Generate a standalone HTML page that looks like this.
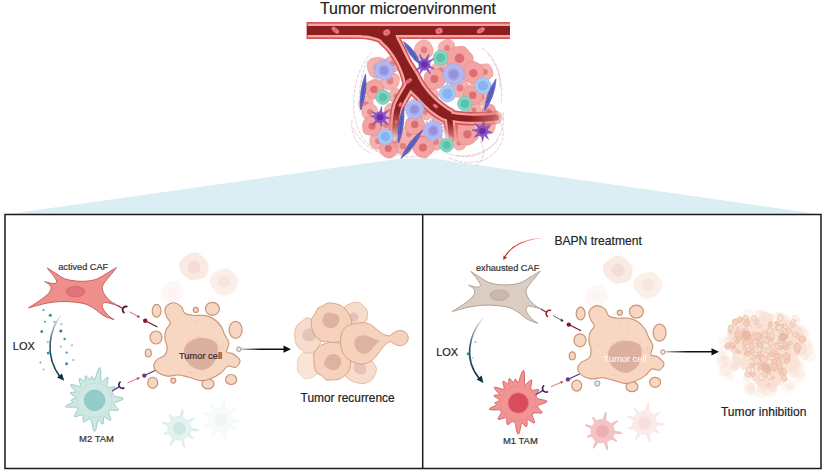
<!DOCTYPE html>
<html><head><meta charset="utf-8"><title>Tumor microenvironment</title>
<style>
html,body{margin:0;padding:0;background:#fff;}
svg{display:block;font-family:"Liberation Sans",sans-serif;}
text{stroke:#222;stroke-width:0.18px;}
text.w{stroke:#fff;}
</style></head><body>
<svg width="825" height="475" viewBox="0 0 825 475">
<rect width="825" height="475" fill="#fff"/>
<defs>
<linearGradient id="gTri" x1="0" y1="0" x2="0" y2="1"><stop offset="0" stop-color="#d9edf3"/><stop offset="1" stop-color="#e0f0f5"/></linearGradient>
<linearGradient id="gLox" gradientUnits="userSpaceOnUse" x1="62" y1="313" x2="62" y2="380"><stop offset="0" stop-color="#1c4a5e" stop-opacity="0"/><stop offset="0.45" stop-color="#1c4a5e" stop-opacity="0.9"/><stop offset="1" stop-color="#0e3242"/></linearGradient>
<linearGradient id="gLox2" gradientUnits="userSpaceOnUse" x1="482" y1="316" x2="482" y2="382"><stop offset="0" stop-color="#1c4a5e" stop-opacity="0"/><stop offset="0.45" stop-color="#1c4a5e" stop-opacity="0.9"/><stop offset="1" stop-color="#0e3242"/></linearGradient>
<linearGradient id="gBapn" gradientUnits="userSpaceOnUse" x1="544" y1="238" x2="503" y2="259"><stop offset="0" stop-color="#d42a2a" stop-opacity="0"/><stop offset="0.5" stop-color="#d42a2a" stop-opacity="0.9"/><stop offset="1" stop-color="#c81e1e"/></linearGradient>
<linearGradient id="gFadeDown" gradientUnits="userSpaceOnUse" x1="0" y1="112" x2="0" y2="140"><stop offset="0" stop-color="#fff"/><stop offset="1" stop-color="#000"/></linearGradient>
<linearGradient id="gFL" gradientUnits="userSpaceOnUse" x1="0" y1="110" x2="0" y2="138"><stop offset="0" stop-color="#fff"/><stop offset="1" stop-color="#222"/></linearGradient>
<linearGradient id="gFD" gradientUnits="userSpaceOnUse" x1="0" y1="122" x2="0" y2="143"><stop offset="0" stop-color="#fff"/><stop offset="1" stop-color="#000"/></linearGradient>
<linearGradient id="gFR" gradientUnits="userSpaceOnUse" x1="470" y1="0" x2="502" y2="0"><stop offset="0" stop-color="#fff"/><stop offset="1" stop-color="#555"/></linearGradient>
<mask id="mFadeL" maskUnits="userSpaceOnUse" x="300" y="0" width="220" height="170"><rect x="300" y="0" width="220" height="170" fill="url(#gFL)"/></mask>
<mask id="mFadeD" maskUnits="userSpaceOnUse" x="300" y="0" width="220" height="170"><rect x="300" y="0" width="220" height="170" fill="url(#gFD)"/></mask>
<mask id="mFadeR" maskUnits="userSpaceOnUse" x="300" y="0" width="220" height="170"><rect x="300" y="0" width="220" height="170" fill="url(#gFR)"/></mask>
<linearGradient id="gArr1" gradientUnits="userSpaceOnUse" x1="241" y1="0" x2="286" y2="0"><stop offset="0" stop-color="#111" stop-opacity="0.25"/><stop offset="0.45" stop-color="#111"/></linearGradient>
<linearGradient id="gArr2" gradientUnits="userSpaceOnUse" x1="665" y1="0" x2="714" y2="0"><stop offset="0" stop-color="#111" stop-opacity="0.25"/><stop offset="0.45" stop-color="#111"/></linearGradient>
</defs>
<polygon points="5,214.5 400,158.6 433,158.6 821,214.5" fill="#dbeef4"/>
<rect x="5" y="214.5" width="816" height="254" fill="#fff" stroke="#1a1a1a" stroke-width="1.5"/>
<line x1="422.7" y1="214.5" x2="422.7" y2="468.5" stroke="#1a1a1a" stroke-width="1.5"/>
<text x="408" y="13.8" font-size="15.9" text-anchor="middle" fill="#222">Tumor microenvironment</text>
<g opacity="0.5"><path d="M180.4 271.2C179.3 269 178.5 265.8 179.1 263.5C179.6 261.2 181.9 259 183.7 257.3C185.6 255.6 187.6 254.1 189.9 253.3C192.1 252.6 195.1 252.2 197.3 252.8C199.5 253.4 201.4 255.5 203.1 257.1C204.9 258.8 206.8 260.5 207.7 262.7C208.6 264.8 208.7 267.7 208.3 270.1C207.9 272.5 206.9 275.6 205.1 277.1C203.4 278.6 200.3 278.8 198 279.4C195.6 279.9 193.2 280.7 191.1 280.2C189 279.7 187 278 185.2 276.5C183.5 275 181.4 273.3 180.4 271.2Z" fill="#f6d6c4"/><circle cx="194.1" cy="266.9" r="6.4" fill="#e6bfb0"/></g>
<g opacity="0.38"><path d="M209.9 283.7C209.3 281.5 209.6 278.4 210.6 276.4C211.5 274.4 213.9 272.7 215.8 271.5C217.6 270.4 219.7 269.6 221.8 269.2C223.9 268.8 226.5 268.3 228.5 268.9C230.6 269.6 232.3 271.4 233.9 273.1C235.5 274.8 237.6 276.8 238.2 279.1C238.7 281.3 238 284.2 237.1 286.4C236.2 288.6 234.5 290.8 232.6 292.2C230.8 293.7 228.3 294.7 226 295.1C223.7 295.5 220.8 295.6 218.8 294.6C216.8 293.7 215.4 291.3 213.9 289.5C212.5 287.6 210.4 285.8 209.9 283.7Z" fill="#f6d6c4"/><circle cx="223.8" cy="281.4" r="6.2" fill="#e6bfb0"/></g>
<g opacity="0.16"><path d="M171.7 304.4C169.8 304.4 167.6 303.5 165.9 302.5C164.2 301.4 162.1 299.8 161.4 298C160.7 296.3 161.3 293.8 161.6 291.9C162 290 162.3 288 163.3 286.5C164.3 285.1 166 283.8 167.6 283C169.2 282.1 171.1 281.7 173 281.6C174.9 281.6 177.5 281.4 179 282.4C180.5 283.4 181.1 285.9 181.9 287.7C182.7 289.5 184 291.4 184 293.1C183.9 294.9 182.6 296.9 181.5 298.4C180.4 300 179 301.3 177.4 302.3C175.7 303.3 173.7 304.4 171.7 304.4Z" fill="#f6d6c4"/><circle cx="172.4" cy="292.5" r="5.2" fill="#e6bfb0"/></g>
<g opacity="0.5"><path d="M604.4 274.5C603.3 272.3 602.5 269.1 603.1 266.8C603.6 264.5 605.9 262.3 607.7 260.6C609.6 258.9 611.6 257.4 613.9 256.6C616.1 255.9 619.1 255.5 621.3 256.1C623.5 256.7 625.4 258.8 627.1 260.4C628.9 262.1 630.8 263.8 631.7 266C632.6 268.1 632.7 271 632.3 273.4C631.9 275.8 630.9 278.9 629.1 280.4C627.4 281.9 624.3 282.1 622 282.7C619.6 283.2 617.2 284 615.1 283.5C613 283 611 281.3 609.2 279.8C607.5 278.3 605.4 276.6 604.4 274.5Z" fill="#f6d6c4"/><circle cx="618.1" cy="270.2" r="6.4" fill="#e6bfb0"/></g>
<g opacity="0.38"><path d="M633.9 287C633.3 284.8 633.6 281.7 634.6 279.7C635.5 277.7 637.9 276 639.8 274.8C641.6 273.7 643.7 272.9 645.8 272.5C647.9 272.1 650.5 271.6 652.5 272.2C654.6 272.9 656.3 274.7 657.9 276.4C659.5 278.1 661.6 280.1 662.2 282.4C662.7 284.6 662 287.5 661.1 289.7C660.2 291.9 658.5 294.1 656.6 295.5C654.8 297 652.3 298 650 298.4C647.7 298.8 644.8 298.9 642.8 297.9C640.8 297 639.4 294.6 637.9 292.8C636.5 290.9 634.4 289.1 633.9 287Z" fill="#f6d6c4"/><circle cx="647.8" cy="284.7" r="6.2" fill="#e6bfb0"/></g>
<g opacity="0.16"><path d="M595.7 307.7C593.8 307.7 591.6 306.8 589.9 305.8C588.2 304.7 586.1 303.1 585.4 301.3C584.7 299.6 585.3 297.1 585.6 295.2C586 293.3 586.3 291.3 587.3 289.8C588.3 288.4 590 287.1 591.6 286.3C593.2 285.4 595.1 285 597 284.9C598.9 284.9 601.5 284.7 603 285.7C604.5 286.7 605.1 289.2 605.9 291C606.7 292.8 608 294.7 608 296.4C607.9 298.2 606.6 300.2 605.5 301.7C604.4 303.3 603 304.6 601.4 305.6C599.7 306.6 597.7 307.7 595.7 307.7Z" fill="#f6d6c4"/><circle cx="596.4" cy="295.8" r="5.2" fill="#e6bfb0"/></g>
<g opacity="0.55"><path d="M167.8 428.5L167.8 428.2L167.8 427.9L167.9 427.6L167.9 427.3L167.9 427L168 426.7L168.1 426.4L168.1 426.1L168 425.8L167.3 425.3L165.6 424.4L163.3 423.3L161.8 422.3L162.4 422L164.6 422.4L166.9 423L168.5 423.4L169.2 423.4L169.4 423.1L169.6 422.9L169.7 422.6L169.9 422.4L170.1 422.1L170.2 421.9L170.4 421.7L170.5 421.4L170.7 421.2L170.9 420.9L171.1 420.7L171.3 420.5L171.4 420.2L171.6 419.9L171.5 419.3L170.9 418.2L170.1 416.5L169.4 414.9L169.6 414.3L170.6 415.1L172 416.5L173 417.6L173.6 418L173.9 417.9L174.2 417.7L174.4 417.6L174.7 417.4L175 417.3L175.3 417.2L175.6 417L175.9 416.9L176.2 416.9L176.5 416.8L176.8 416.7L177.1 416.7L177.4 416.7L177.7 416.6L178.1 416.6L178.4 416.6L178.7 416.7L179 416.7L179.3 416.7L179.6 416.8L179.9 416.7L180.3 416L180.8 414.2L181.5 411.7L182.3 409.7L182.8 409.4L183 411.2L182.8 413.9L182.6 416.1L182.6 417.4L182.8 417.8L183 418L183.3 418.1L183.5 418.2L183.8 418.4L184.1 418.5L184.3 418.6L184.6 418.8L184.8 418.9L185.1 419.1L185.3 419.2L185.6 419.3L185.8 419.5L186.1 419.6L186.3 419.8L186.6 420L186.8 420.1L187.1 420.3L187.3 420.5L187.5 420.7L187.8 420.8L188.5 420.7L189.8 420L191.8 418.9L193.7 418L194.3 418.2L193.3 419.4L191.5 421L190.2 422.2L189.7 422.9L189.7 423.2L189.8 423.5L189.9 423.8L190.1 424L190.2 424.3L190.3 424.6L190.4 424.9L190.5 425.2L190.5 425.5L190.6 425.8L190.7 426.1L190.7 426.4L190.7 426.7L190.8 427L190.8 427.3L190.8 427.6L190.8 427.9L191 428.2L192 428.5L194.1 428.9L196.8 429.4L198.6 430L198.1 430.5L195.8 430.7L193.2 430.7L191.5 430.8L190.8 430.9L190.6 431.2L190.6 431.5L190.5 431.8L190.4 432.1L190.4 432.4L190.3 432.7L190.2 433L190.1 433.3L189.9 433.6L189.8 433.9L189.8 434.2L190.2 434.8L191.3 435.9L192.8 437.2L193.6 438.3L193.1 438.5L191.5 437.9L189.8 437L188.7 436.5L188.1 436.4L187.8 436.6L187.5 436.7L187.3 436.9L187.1 437.1L186.8 437.3L186.5 437.4L186.3 437.6L186 437.7L185.7 437.9L185.5 438L185.2 438.1L184.9 438.2L184.6 438.3L184.4 438.4L184.1 438.5L183.8 438.6L183.6 438.8L183.5 439.4L183.7 440.9L184.1 443.4L184.5 446L184.3 447.3L183.6 446.3L182.6 443.8L181.7 441.5L181.1 440.1L180.8 439.6L180.5 439.5L180.2 439.6L179.9 439.7L179.6 439.7L179.3 439.8L179 439.8L178.7 439.9L178.4 439.9L178.1 439.9L177.8 439.9L177.5 440L177.2 440L176.9 439.9L176.6 439.9L176.2 439.9L175.9 439.8L175.6 439.8L175.3 439.7L175 439.7L174.5 440.2L173.5 441.5L172.1 443.5L170.8 445.2L170.1 445.4L170.6 443.7L171.5 441.2L172.2 439.4L172.4 438.5L172.3 438.1L172.1 437.9L171.8 437.7L171.6 437.5L171.4 437.3L171.2 437L171 436.8L170.8 436.5L170.6 436.3L170.5 436L170.3 435.8L170.1 435.5L170 435.3L169.8 435L169.7 434.7L169.5 434.5L169.4 434.2L169.3 433.9L169.1 433.7L168.6 433.6L167.5 433.8L165.8 434.1L164.3 434.3L163.9 434L164.8 433.2L166.4 432.3L167.6 431.6L168.1 431.2L168.1 430.9L168 430.6L168 430.3L167.9 430L167.9 429.7L167.9 429.4L167.8 429.1L167.8 428.8Z" fill="#cfe8e4" stroke="#b0d8d2" stroke-width="0.9" stroke-linejoin="round"/><circle cx="179.3" cy="428.5" r="6.1" fill="#a3d6cf" stroke="#a3d6cf" stroke-width="0.8"/></g>
<g opacity="0.16"><path d="M209 419.5L209.1 419.2L209.1 418.9L209.2 418.6L209.2 418.3L209.3 418L209.3 417.7L209.4 417.4L209.5 417.1L209.4 416.8L208.6 416.2L206.8 415.3L204.4 414.2L202.9 413.2L203.4 412.8L205.6 413.2L208 413.8L209.6 414.2L210.3 414.2L210.5 413.9L210.7 413.7L210.8 413.4L211 413.1L211.1 412.8L211.3 412.6L211.4 412.3L211.6 412.1L211.8 411.8L212 411.6L212.2 411.3L212.4 411.1L212.6 410.9L212.8 410.6L212.7 410L212.2 408.9L211.3 407.1L210.6 405.5L210.8 405L211.9 405.9L213.4 407.4L214.5 408.5L215.1 409L215.4 408.9L215.7 408.8L216 408.7L216.3 408.6L216.6 408.5L216.9 408.4L217.1 408.3L217.4 408.2L217.7 408.1L218 408L218.3 407.9L218.6 407.8L218.9 407.8L219.2 407.7L219.6 407.6L219.9 407.6L220.2 407.5L220.5 407.5L220.8 407.5L221.1 407.4L221.4 407.2L221.8 406.4L222.4 404.5L223.1 401.8L223.9 399.6L224.5 399.3L224.7 401.1L224.6 403.8L224.4 406.1L224.4 407.3L224.6 407.7L224.9 407.9L225.2 408L225.5 408.1L225.8 408.2L226.1 408.4L226.4 408.6L226.6 408.7L226.9 408.9L227.2 409.1L227.4 409.3L227.7 409.5L227.9 409.8L228.1 410L228.3 410.2L228.5 410.5L228.7 410.7L228.9 411L229.1 411.2L229.3 411.5L229.5 411.7L230.1 411.5L231.4 410.9L233.5 409.8L235.3 409L235.9 409.1L234.8 410.4L232.9 412.1L231.5 413.3L230.9 414L230.9 414.3L231 414.6L231.2 414.9L231.3 415.1L231.4 415.4L231.6 415.7L231.7 416L231.8 416.2L231.9 416.5L232.1 416.8L232.2 417.1L232.3 417.4L232.4 417.7L232.5 418L232.6 418.3L232.6 418.6L232.7 418.9L233 419.2L234 419.5L236.2 419.9L239 420.5L240.9 421.1L240.5 421.6L238.1 421.8L235.4 421.8L233.6 421.9L232.9 422.1L232.7 422.4L232.6 422.7L232.6 423L232.5 423.3L232.3 423.6L232.2 423.9L232.1 424.2L231.9 424.5L231.8 424.7L231.6 425L231.6 425.4L232 426L233.1 427.1L234.6 428.5L235.4 429.6L234.9 429.7L233.3 429.1L231.5 428.2L230.3 427.6L229.7 427.6L229.5 427.7L229.2 427.9L229 428.1L228.8 428.4L228.5 428.6L228.3 428.8L228.1 429L227.8 429.1L227.6 429.3L227.3 429.5L227 429.7L226.8 429.8L226.5 430L226.2 430.2L226 430.3L225.7 430.4L225.4 430.7L225.3 431.3L225.6 432.9L226 435.5L226.3 438.2L226.2 439.5L225.3 438.4L224.3 435.9L223.4 433.4L222.8 432L222.4 431.4L222 431.3L221.7 431.3L221.4 431.3L221.1 431.3L220.8 431.3L220.5 431.2L220.2 431.2L219.9 431.1L219.6 431.1L219.3 431L219 430.9L218.7 430.9L218.4 430.8L218.1 430.7L217.8 430.6L217.5 430.5L217.3 430.4L217 430.3L216.7 430.3L216.1 430.8L215.2 432.1L213.8 434.3L212.4 436.1L211.7 436.2L212.1 434.5L213.1 432L213.9 430.2L214.1 429.3L213.9 429L213.6 428.9L213.3 428.7L213.1 428.6L212.8 428.4L212.5 428.2L212.3 428L212 427.9L211.7 427.7L211.5 427.4L211.3 427.2L211 427L210.8 426.8L210.6 426.5L210.4 426.3L210.2 426L210 425.7L209.9 425.4L209.6 425.2L209.1 425.1L208 425.2L206.2 425.5L204.7 425.7L204.3 425.3L205.3 424.5L207 423.6L208.2 422.9L208.8 422.4L208.9 422L208.9 421.7L208.9 421.4L208.9 421.1L208.9 420.8L208.9 420.4L208.9 420.1L209 419.8Z" fill="#cfe8e4" stroke="#a8d2cc" stroke-width="0.9" stroke-linejoin="round"/><circle cx="220.8" cy="419.5" r="6.3" fill="#a3d6cf" stroke="#a3d6cf" stroke-width="0.8"/></g>
<g opacity="0.58"><path d="M591 431.3L591 431L591 430.7L591.1 430.4L591.1 430.1L591.1 429.8L591.2 429.5L591.3 429.2L591.3 428.9L591.2 428.6L590.5 428.1L588.8 427.2L586.5 426.1L585 425.1L585.6 424.8L587.8 425.2L590.1 425.8L591.7 426.2L592.4 426.2L592.6 425.9L592.8 425.7L592.9 425.4L593.1 425.2L593.3 424.9L593.4 424.7L593.6 424.5L593.7 424.2L593.9 424L594.1 423.7L594.3 423.5L594.5 423.3L594.6 423L594.8 422.7L594.7 422.1L594.1 421L593.3 419.3L592.6 417.7L592.8 417.1L593.8 417.9L595.2 419.3L596.2 420.4L596.8 420.8L597.1 420.7L597.4 420.5L597.6 420.4L597.9 420.2L598.2 420.1L598.5 420L598.8 419.8L599.1 419.7L599.4 419.7L599.7 419.6L600 419.5L600.3 419.5L600.6 419.5L600.9 419.4L601.3 419.4L601.6 419.4L601.9 419.5L602.2 419.5L602.5 419.5L602.8 419.6L603.1 419.5L603.5 418.8L604 417L604.7 414.5L605.5 412.5L606 412.2L606.2 414L606 416.7L605.8 418.9L605.8 420.2L606 420.6L606.2 420.8L606.5 420.9L606.7 421L607 421.2L607.3 421.3L607.5 421.4L607.8 421.6L608 421.7L608.3 421.9L608.5 422L608.8 422.1L609 422.3L609.3 422.4L609.5 422.6L609.8 422.8L610 422.9L610.3 423.1L610.5 423.3L610.7 423.5L611 423.6L611.7 423.5L613 422.8L615 421.7L616.9 420.8L617.5 421L616.5 422.2L614.7 423.8L613.4 425L612.9 425.7L612.9 426L613 426.3L613.1 426.6L613.3 426.8L613.4 427.1L613.5 427.4L613.6 427.7L613.7 428L613.7 428.3L613.8 428.6L613.9 428.9L613.9 429.2L613.9 429.5L614 429.8L614 430.1L614 430.4L614 430.7L614.2 431L615.2 431.3L617.3 431.7L620 432.2L621.8 432.8L621.3 433.3L619 433.5L616.4 433.5L614.7 433.6L614 433.7L613.8 434L613.8 434.3L613.7 434.6L613.6 434.9L613.6 435.2L613.5 435.5L613.4 435.8L613.3 436.1L613.1 436.4L613 436.7L613 437L613.4 437.6L614.5 438.7L616 440L616.8 441.1L616.3 441.3L614.7 440.7L613 439.8L611.9 439.3L611.3 439.2L611 439.4L610.7 439.5L610.5 439.7L610.3 439.9L610 440.1L609.7 440.2L609.5 440.4L609.2 440.5L608.9 440.7L608.7 440.8L608.4 440.9L608.1 441L607.8 441.1L607.6 441.2L607.3 441.3L607 441.4L606.8 441.6L606.7 442.2L606.9 443.7L607.3 446.2L607.7 448.8L607.5 450.1L606.8 449.1L605.8 446.6L604.9 444.3L604.3 442.9L604 442.4L603.7 442.3L603.4 442.4L603.1 442.5L602.8 442.5L602.5 442.6L602.2 442.6L601.9 442.7L601.6 442.7L601.3 442.7L601 442.7L600.7 442.8L600.4 442.8L600.1 442.7L599.8 442.7L599.4 442.7L599.1 442.6L598.8 442.6L598.5 442.5L598.2 442.5L597.7 443L596.7 444.3L595.3 446.3L594 448L593.3 448.2L593.8 446.5L594.7 444L595.4 442.2L595.6 441.3L595.5 440.9L595.3 440.7L595 440.5L594.8 440.3L594.6 440.1L594.4 439.8L594.2 439.6L594 439.3L593.8 439.1L593.7 438.8L593.5 438.6L593.3 438.3L593.2 438.1L593 437.8L592.9 437.5L592.7 437.3L592.6 437L592.5 436.7L592.3 436.5L591.8 436.4L590.7 436.6L589 436.9L587.5 437.1L587.1 436.8L588 436L589.6 435.1L590.8 434.4L591.3 434L591.3 433.7L591.2 433.4L591.2 433.1L591.1 432.8L591.1 432.5L591.1 432.2L591 431.9L591 431.6Z" fill="#f29a9a" stroke="#e08888" stroke-width="0.9" stroke-linejoin="round"/><circle cx="602.5" cy="431.3" r="6.1" fill="#e37782" stroke="#e37782" stroke-width="0.8"/></g>
<g opacity="0.2"><path d="M633 422.8L633.1 422.5L633.1 422.2L633.2 421.9L633.2 421.6L633.3 421.3L633.3 421L633.4 420.7L633.5 420.4L633.4 420.1L632.6 419.5L630.8 418.6L628.4 417.5L626.9 416.5L627.4 416.1L629.6 416.5L632 417.1L633.6 417.5L634.3 417.5L634.5 417.2L634.7 417L634.8 416.7L635 416.4L635.1 416.1L635.3 415.9L635.4 415.6L635.6 415.4L635.8 415.1L636 414.9L636.2 414.6L636.4 414.4L636.6 414.2L636.8 413.9L636.7 413.3L636.2 412.2L635.3 410.4L634.6 408.8L634.8 408.3L635.9 409.2L637.4 410.7L638.5 411.8L639.1 412.3L639.4 412.2L639.7 412.1L640 412L640.3 411.9L640.6 411.8L640.9 411.7L641.1 411.6L641.4 411.5L641.7 411.4L642 411.3L642.3 411.2L642.6 411.1L642.9 411.1L643.2 411L643.6 410.9L643.9 410.9L644.2 410.8L644.5 410.8L644.8 410.8L645.1 410.7L645.4 410.5L645.8 409.7L646.4 407.8L647.1 405.1L647.9 402.9L648.5 402.6L648.7 404.4L648.6 407.1L648.4 409.4L648.4 410.6L648.6 411L648.9 411.2L649.2 411.3L649.5 411.4L649.8 411.5L650.1 411.7L650.4 411.9L650.6 412L650.9 412.2L651.2 412.4L651.4 412.6L651.7 412.8L651.9 413.1L652.1 413.3L652.3 413.5L652.5 413.8L652.7 414L652.9 414.3L653.1 414.5L653.3 414.8L653.5 415L654.1 414.8L655.4 414.2L657.5 413.1L659.3 412.3L659.9 412.4L658.8 413.7L656.9 415.4L655.5 416.6L654.9 417.3L654.9 417.6L655 417.9L655.2 418.2L655.3 418.4L655.4 418.7L655.6 419L655.7 419.3L655.8 419.5L655.9 419.8L656.1 420.1L656.2 420.4L656.3 420.7L656.4 421L656.5 421.3L656.6 421.6L656.6 421.9L656.7 422.2L657 422.5L658 422.8L660.2 423.2L663 423.8L664.9 424.4L664.5 424.9L662.1 425.1L659.4 425.1L657.6 425.2L656.9 425.4L656.7 425.7L656.6 426L656.6 426.3L656.5 426.6L656.3 426.9L656.2 427.2L656.1 427.5L655.9 427.8L655.8 428L655.6 428.3L655.6 428.7L656 429.3L657.1 430.4L658.6 431.8L659.4 432.9L658.9 433L657.3 432.4L655.5 431.5L654.3 430.9L653.7 430.9L653.5 431L653.2 431.2L653 431.4L652.8 431.7L652.5 431.9L652.3 432.1L652.1 432.3L651.8 432.4L651.6 432.6L651.3 432.8L651 433L650.8 433.1L650.5 433.3L650.2 433.5L650 433.6L649.7 433.7L649.4 434L649.3 434.6L649.6 436.2L650 438.8L650.3 441.5L650.2 442.8L649.3 441.7L648.3 439.2L647.4 436.7L646.8 435.3L646.4 434.7L646 434.6L645.7 434.6L645.4 434.6L645.1 434.6L644.8 434.6L644.5 434.5L644.2 434.5L643.9 434.4L643.6 434.4L643.3 434.3L643 434.2L642.7 434.2L642.4 434.1L642.1 434L641.8 433.9L641.5 433.8L641.3 433.7L641 433.6L640.7 433.6L640.1 434.1L639.2 435.4L637.8 437.6L636.4 439.4L635.7 439.5L636.1 437.8L637.1 435.3L637.9 433.5L638.1 432.6L637.9 432.3L637.6 432.2L637.3 432L637.1 431.9L636.8 431.7L636.5 431.5L636.3 431.3L636 431.2L635.7 431L635.5 430.7L635.3 430.5L635 430.3L634.8 430.1L634.6 429.8L634.4 429.6L634.2 429.3L634 429L633.9 428.7L633.6 428.5L633.1 428.4L632 428.5L630.2 428.8L628.7 429L628.3 428.6L629.3 427.8L631 426.9L632.2 426.2L632.8 425.7L632.9 425.3L632.9 425L632.9 424.7L632.9 424.4L632.9 424.1L632.9 423.7L632.9 423.4L633 423.1Z" fill="#f29a9a" stroke="#dd7a7a" stroke-width="0.9" stroke-linejoin="round"/><circle cx="644.8" cy="422.8" r="6.3" fill="#e06070" stroke="#e06070" stroke-width="0.8"/></g>
<text x="507.6" y="270.6" font-size="9.2" text-anchor="middle" fill="#333">exhausted CAF</text>
<path d="M47.1 267.9C48.7 268.9 53.7 272.1 56.6 273.9C59.5 275.7 61.4 277.5 64.5 278.7C67.7 279.9 71.6 280.6 75.5 281C79.4 281.4 84.4 281.4 88.1 281C91.8 280.6 94.4 280 97.6 278.7C100.8 277.4 103.9 275 107.1 273.2C110.2 271.4 114.9 268.5 116.5 267.6C115.5 268.9 112.3 272.9 110.2 275.5C108.1 278.1 105.2 281.2 103.9 283.4C102.6 285.6 102 286.8 102.3 288.9C102.6 291 104 293.9 105.5 296C107 298.1 108.9 300 111 301.6C113.1 303.2 117.1 305.1 118.3 305.8C117 305.4 112.5 303.9 110.2 303.4C107.9 302.9 106 302.2 104.7 302.6C103.4 303 102.4 304.2 102.3 305.5C102.2 306.8 102.8 308.5 103.9 310.2C105 311.9 107 314.2 108.7 315.8C110.4 317.4 113.3 319.1 114.2 319.7C112.5 319.1 107.2 317.6 103.9 315.8C100.6 314 97.6 310.7 94.4 308.7C91.2 306.7 88.7 305 85 303.9C81.3 302.8 76.5 302.3 72.3 301.9C68.1 301.5 63.9 301.4 59.7 301.6C55.5 301.8 51.1 302.4 47.1 303.1C43.1 303.8 39.1 305 36 305.8C32.9 306.6 29.8 307.5 28.5 307.9C29.8 307.1 33.4 304.8 36 303.1C38.6 301.4 41.6 299.4 43.9 297.6C46.1 295.8 48.3 293.8 49.5 292.1C50.7 290.4 51.1 288.7 51 287.4C50.9 286.1 49.8 285.2 48.7 284.2C47.7 283.2 45.4 281.9 44.7 281.5C45.6 281.8 48.6 282.8 50.3 283.1C52 283.4 54 283.8 55 283.4C56 283 56.9 282.3 56.6 281C56.3 279.7 54.7 277.3 53.4 275.5C52.1 273.7 49.8 271.3 48.7 270C47.7 268.7 47.4 268.2 47.1 267.9Z" fill="#ef8f8c" stroke="#c4605f" stroke-width="1" stroke-linejoin="round"/><ellipse cx="75.5" cy="291.6" rx="9.3" ry="5.3" fill="#e1747a" stroke="#d45f68" stroke-width="0.7"/>
<path d="M470.9 271.5C472.5 272.5 477.5 275.7 480.4 277.5C483.3 279.3 485.2 281.1 488.3 282.3C491.4 283.5 495.4 284.2 499.3 284.6C503.2 285 508.2 285 511.9 284.6C515.6 284.2 518.2 283.6 521.4 282.3C524.6 281 527.8 278.6 530.9 276.8C534 275 538.7 272.1 540.3 271.2C539.2 272.5 536.1 276.5 534 279.1C531.9 281.7 529 284.8 527.7 287C526.4 289.2 525.8 290.4 526.1 292.5C526.4 294.6 527.8 297.5 529.3 299.6C530.8 301.7 532.7 303.6 534.8 305.2C536.9 306.8 540.9 308.7 542.1 309.4C540.8 309 536.3 307.5 534 307C531.7 306.5 529.8 305.9 528.5 306.2C527.2 306.6 526.2 307.8 526.1 309.1C526 310.4 526.6 312.1 527.7 313.8C528.8 315.5 530.8 317.8 532.5 319.4C534.2 321 537.1 322.7 538 323.3C536.3 322.7 531 321.2 527.7 319.4C524.4 317.6 521.4 314.3 518.2 312.3C515.1 310.3 512.5 308.6 508.8 307.5C505.1 306.4 500.3 305.9 496.1 305.5C491.9 305.1 487.7 305 483.5 305.2C479.3 305.4 474.9 306 470.9 306.7C467 307.4 462.9 308.6 459.8 309.4C456.7 310.2 453.6 311.1 452.3 311.5C453.6 310.7 457.2 308.4 459.8 306.7C462.4 305 465.4 303 467.7 301.2C469.9 299.4 472.1 297.4 473.3 295.7C474.5 294 474.9 292.3 474.8 291C474.7 289.7 473.6 288.8 472.5 287.8C471.4 286.8 469.2 285.6 468.5 285.1C469.4 285.4 472.4 286.4 474.1 286.7C475.8 287 477.8 287.4 478.8 287C479.9 286.6 480.7 285.9 480.4 284.6C480.1 283.3 478.5 280.9 477.2 279.1C475.9 277.3 473.6 274.9 472.5 273.6C471.4 272.3 471.2 271.9 470.9 271.5Z" fill="#dccdc3" stroke="#b3a297" stroke-width="1" stroke-linejoin="round"/><ellipse cx="499.3" cy="295.2" rx="9.3" ry="5.3" fill="#cbb7ab" stroke="#b8a294" stroke-width="0.7"/>
<circle cx="43.5" cy="309.9" r="1.0" fill="#3a9ab0"/>
<circle cx="50.3" cy="315.2" r="1.5" fill="#2a8fa8"/>
<circle cx="45" cy="321.7" r="1.0" fill="#3a9ab0"/>
<circle cx="54.5" cy="322" r="1.2" fill="#a9bcc8"/>
<circle cx="61.4" cy="324.2" r="1.1" fill="#b5c0cc"/>
<circle cx="41.8" cy="331.6" r="1.4" fill="#2a8098"/>
<circle cx="60.8" cy="331" r="1.5" fill="#1f7a94"/>
<circle cx="64.6" cy="339" r="1.2" fill="#3a90a8"/>
<circle cx="47.7" cy="342" r="1.2" fill="#b8c6d0"/>
<circle cx="72" cy="345.3" r="1.1" fill="#a8b8c4"/>
<circle cx="60.8" cy="346.7" r="1.1" fill="#b0bcc8"/>
<circle cx="48.2" cy="353" r="1.5" fill="#2f9ab4"/>
<circle cx="66.7" cy="352.6" r="1.1" fill="#3a90a8"/>
<circle cx="73.4" cy="360" r="1.1" fill="#9fb0bc"/>
<circle cx="40.4" cy="362.5" r="1.0" fill="#5fb0c4"/>
<circle cx="66.5" cy="363.8" r="1.5" fill="#2a8fa8"/>
<circle cx="43.5" cy="369.5" r="1.0" fill="#a8b8c4"/>
<circle cx="475.5" cy="342" r="1.1" fill="#7cc4e0"/>
<circle cx="468" cy="353.9" r="1.3" fill="#2a8fc0"/>
<circle cx="473" cy="358" r="1.0" fill="#bcd0dc"/>
<path d="M62 313.5C49 330 44 355 60 377" fill="none" stroke="url(#gLox)" stroke-width="1.6"/>
<polygon points="64.2,380.8 57,377.4 62,373.4" fill="#0e3242"/>
<path d="M483.5 317.5C469 334 463 359 479.3 378.5" fill="none" stroke="url(#gLox2)" stroke-width="1.6"/>
<polygon points="483.4,383 476.6,379.6 481.7,375.6" fill="#0e3242"/>
<g><path d="M70.9 400.3L71.5 399.7L72.7 399.2L74 398.7L75.2 398.3L75.9 397.8L76 397.3L75.3 396.7L74.1 395.9L72.5 395L71 394L70.2 393.1L70.5 392.5L71.9 392.3L73.6 392.2L75.1 392.2L75.8 391.9L75.5 391.2L74.5 390.1L73.2 388.7L71.9 387.2L70.9 385.8L70.6 384.7L71.5 384.4L73.2 384.8L75 385.2L76.7 385.8L78.1 386.2L79.3 386.5L80 386.4L80.4 386.1L80.5 385.5L80.4 384.5L80 383.2L79.6 381.7L79.2 380.2L79.1 378.9L79.5 378.4L80.6 378.8L82 379.7L83.3 380.7L84.3 381.4L84.9 381.3L85.1 380.4L85.1 378.9L85.1 377.3L85.3 376.1L85.9 375.7L86.8 376.4L87.9 377.7L88.9 379L89.7 379.8L90.2 379.6L90.6 378.6L91 377.3L91.5 376.4L92.1 376.6L92.8 377.6L93.5 378.9L94.1 379.9L94.6 380.1L95.2 378.8L95.8 376.5L96.7 373.8L97.7 371L98.8 368.5L99.8 367.5L100.4 368.7L100.7 371.4L100.8 374.3L100.8 377.1L100.8 379.5L100.8 381.3L101.1 382.1L101.6 382L102.4 381.4L103.4 380.4L104.6 379.4L105.8 378.3L107 377.4L107.9 377.2L108.2 378.1L108 379.6L107.7 381.2L107.4 382.7L107.1 384.1L106.9 385.1L107 385.8L107.3 386.2L107.7 386.5L108 386.9L108.4 387.2L108.8 387.5L109.5 387.6L110.5 387.4L111.7 387.2L113 386.9L114.3 386.8L115 387L115 387.8L114.4 388.9L113.6 390L113 390.9L112.5 391.8L112.3 392.4L112.4 392.9L112.6 393.4L112.8 393.8L113.1 394.3L113.3 394.8L113.5 395.2L113.8 395.7L114.4 396.1L115.6 396.4L117.2 396.7L119 397.1L120.9 397.5L122.6 398.1L123.4 398.8L122.7 399.6L121.1 400.3L119.4 400.9L117.7 401.5L116.2 402L115 402.4L114.5 402.9L114.3 403.4L114.1 403.9L114.1 404.5L114.5 405.1L115.1 405.8L116 406.6L117 407.6L117.9 408.5L118.5 409.5L118.3 410.1L117.3 410.4L115.8 410.4L114.3 410.3L112.9 410.2L111.7 410.2L110.8 410.2L110.3 410.5L109.9 410.8L109.6 411.2L109.3 411.5L108.9 411.9L108.7 412.3L108.6 412.9L108.9 413.9L109.4 415.1L109.9 416.5L110.5 417.9L110.9 419.4L110.8 420.3L109.9 420.2L108.6 419.6L107.3 418.8L106.1 418L105 417.3L104.2 416.9L103.7 417L103.4 417.6L103.3 418.6L103.4 420L103.4 421.5L103.3 422.9L103 423.9L102.3 424L101.4 423.3L100.5 422.3L99.6 421.3L98.9 420.4L98.3 420L97.8 420.5L97.4 421.9L97.1 423.9L96.6 426.1L96.1 428.5L95.4 430.6L94.6 431.6L93.8 430.6L93.1 428.5L92.6 426.1L92.1 423.8L91.8 421.8L91.4 420.4L91 419.6L90.5 419.4L90.1 419.2L89.6 419.1L89.1 419L88.5 419L87.8 419.4L87 420L86.2 420.6L85.2 421.3L84.3 421.9L83.6 421.9L83.2 421.3L83.1 420.2L83.1 419.1L83.1 418L83.1 417L83 416.2L82.8 415.7L82.4 415.4L82 415.1L81.3 415L80.4 415.2L79.3 415.6L78 416.1L76.6 416.5L75.3 416.7L74.5 416.6L74.5 415.7L75 414.5L75.7 413.3L76.4 412.1L77 411.1L77.4 410.2L77.5 409.6L77.4 409.1L77.2 408.6L77 408.1L76.8 407.7L76.4 407.3L75.3 407.1L73.6 407.1L71.3 407.2L68.9 407.2L66.6 407L65.5 406.5L66.4 405.5L68.5 404.4L70.8 403.4L72.5 402.6L73.1 402L72.5 401.5L71.4 400.9Z" fill="#cfe8e4" stroke="#8fc6be" stroke-width="0.9" stroke-linejoin="round"/><circle cx="94.6" cy="400.3" r="17.4" fill="none" stroke="#b6dbd6" stroke-width="0.7"/><circle cx="94.6" cy="400.3" r="10.2" fill="#93cdc7" stroke="#83c2bb" stroke-width="0.8"/></g>
<g><path d="M494.6 403L495.2 402.4L496.4 401.9L497.7 401.4L498.9 401L499.6 400.5L499.7 400L499 399.4L497.8 398.6L496.2 397.7L494.7 396.7L493.9 395.8L494.2 395.2L495.6 395L497.3 394.9L498.8 394.9L499.5 394.6L499.2 393.9L498.2 392.8L496.9 391.4L495.6 389.9L494.6 388.5L494.3 387.4L495.2 387.1L496.9 387.5L498.7 387.9L500.4 388.5L501.8 388.9L503 389.2L503.7 389.1L504.1 388.8L504.2 388.2L504.1 387.2L503.7 385.9L503.3 384.4L502.9 382.9L502.8 381.6L503.2 381.1L504.3 381.5L505.7 382.4L507 383.4L508 384.1L508.6 384L508.8 383.1L508.8 381.6L508.8 380L509 378.8L509.6 378.4L510.5 379.1L511.6 380.4L512.6 381.7L513.4 382.5L513.9 382.3L514.3 381.3L514.7 380L515.2 379.1L515.8 379.3L516.5 380.3L517.2 381.6L517.8 382.6L518.3 382.8L518.9 381.5L519.5 379.2L520.4 376.5L521.4 373.7L522.5 371.2L523.5 370.2L524.1 371.4L524.4 374.1L524.5 377L524.5 379.8L524.5 382.2L524.5 384L524.8 384.8L525.3 384.7L526.1 384.1L527.1 383.1L528.3 382.1L529.5 381L530.7 380.1L531.6 379.9L531.9 380.8L531.7 382.3L531.4 383.9L531.1 385.4L530.8 386.8L530.6 387.8L530.7 388.5L531 388.9L531.4 389.2L531.7 389.6L532.1 389.9L532.5 390.2L533.2 390.3L534.2 390.1L535.4 389.9L536.7 389.6L538 389.5L538.7 389.7L538.7 390.5L538.1 391.6L537.3 392.7L536.7 393.6L536.2 394.5L536 395.1L536.1 395.6L536.3 396.1L536.5 396.5L536.8 397L537 397.5L537.2 397.9L537.5 398.4L538.1 398.8L539.3 399.1L540.9 399.4L542.7 399.8L544.6 400.2L546.3 400.8L547.1 401.5L546.4 402.3L544.8 403L543.1 403.6L541.4 404.2L539.9 404.7L538.7 405.1L538.2 405.6L538 406.1L537.8 406.6L537.8 407.2L538.2 407.8L538.8 408.5L539.7 409.3L540.7 410.3L541.6 411.2L542.2 412.2L542 412.8L541 413.1L539.5 413.1L538 413L536.6 412.9L535.4 412.9L534.5 412.9L534 413.2L533.6 413.5L533.3 413.9L533 414.2L532.6 414.6L532.4 415L532.3 415.6L532.6 416.6L533.1 417.8L533.6 419.2L534.2 420.6L534.6 422.1L534.5 423L533.6 422.9L532.3 422.3L531 421.5L529.8 420.7L528.7 420L527.9 419.6L527.4 419.7L527.1 420.3L527 421.3L527.1 422.7L527.1 424.2L527 425.6L526.7 426.6L526 426.7L525.1 426L524.2 425L523.3 424L522.6 423.1L522 422.7L521.5 423.2L521.1 424.6L520.8 426.6L520.3 428.8L519.8 431.2L519.1 433.3L518.3 434.3L517.5 433.3L516.8 431.2L516.3 428.8L515.8 426.5L515.5 424.5L515.1 423.1L514.7 422.3L514.2 422.1L513.8 421.9L513.3 421.8L512.8 421.7L512.2 421.7L511.5 422.1L510.7 422.7L509.9 423.3L508.9 424L508 424.6L507.3 424.6L506.9 424L506.8 422.9L506.8 421.8L506.8 420.7L506.8 419.7L506.7 418.9L506.5 418.4L506.1 418.1L505.7 417.8L505 417.7L504.1 417.9L503 418.3L501.7 418.8L500.3 419.2L499 419.4L498.2 419.3L498.2 418.4L498.7 417.2L499.4 416L500.1 414.8L500.7 413.8L501.1 412.9L501.2 412.3L501.1 411.8L500.9 411.3L500.7 410.8L500.5 410.4L500.1 410L499 409.8L497.3 409.8L495 409.9L492.6 409.9L490.3 409.7L489.2 409.2L490.1 408.2L492.2 407.1L494.5 406.1L496.2 405.3L496.8 404.7L496.2 404.2L495.1 403.6Z" fill="#f19494" stroke="#cf5f64" stroke-width="0.9" stroke-linejoin="round"/><circle cx="518.3" cy="403" r="17.4" fill="none" stroke="#ea8686" stroke-width="0.7"/><circle cx="518.3" cy="403" r="10.2" fill="#d94c5a" stroke="#e8707a" stroke-width="0.8"/></g>
<line x1="117.5" y1="305.5" x2="122.5" y2="308.3" stroke="#7a2a3a" stroke-width="1.2"/><path d="M127.5 306.8A3.2 3.2 0 1 0 124.5 312.9" fill="none" stroke="#4a0f22" stroke-width="1.7"/><line x1="129.5" y1="311.8" x2="137.4" y2="316.1" stroke="#c02838" stroke-width="0.8" opacity="0.85"/><polygon points="140.2,317.6 136.7,317.4 138.1,314.8" fill="#c02838"/><line x1="145.2" y1="320.8" x2="157.5" y2="327" stroke="#6a1822" stroke-width="1.1"/><circle cx="145.2" cy="320.8" r="2.2" fill="#8e1424"/><line x1="112" y1="391" x2="119.5" y2="386.6" stroke="#5a3c8a" stroke-width="1.3"/><path d="M120.6 381.6A3.2 3.2 0 1 0 124.4 387.8" fill="none" stroke="#3b2068" stroke-width="1.7"/><line x1="127.5" y1="382.8" x2="137" y2="378.8" stroke="#cc3040" stroke-width="0.8" opacity="0.85"/><polygon points="140,377.6 137.6,380.2 136.5,377.4" fill="#cc3040"/><line x1="144.3" y1="375.6" x2="156.3" y2="369.9" stroke="#553070" stroke-width="1.1"/><circle cx="144.3" cy="375.6" r="2.2" fill="#6f3a8c"/>
<line x1="541.1" y1="309.3" x2="546.1" y2="312.1" stroke="#7a2a3a" stroke-width="1.2"/><path d="M551.1 310.6A3.2 3.2 0 1 0 548.1 316.7" fill="none" stroke="#a81c2c" stroke-width="1.7"/><line x1="553.1" y1="315.6" x2="561" y2="319.9" stroke="#2a2a2a" stroke-width="0.8" opacity="0.85"/><polygon points="563.8,321.4 560.3,321.2 561.7,318.6" fill="#2a2a2a"/><line x1="568.8" y1="324.6" x2="581.1" y2="330.8" stroke="#6a1822" stroke-width="1.1"/><circle cx="568.8" cy="324.6" r="2.2" fill="#8e1424"/><line x1="535.6" y1="394.8" x2="543.1" y2="390.4" stroke="#5a3c8a" stroke-width="1.3"/><path d="M544.2 385.4A3.2 3.2 0 1 0 548 391.6" fill="none" stroke="#3b2068" stroke-width="1.7"/><line x1="551.1" y1="386.6" x2="560.6" y2="382.6" stroke="#cc3040" stroke-width="0.8" opacity="0.85"/><polygon points="563.6,381.4 561.2,384 560.1,381.2" fill="#cc3040"/><line x1="567.9" y1="379.4" x2="579.9" y2="373.7" stroke="#553070" stroke-width="1.1"/><circle cx="567.9" cy="379.4" r="2.2" fill="#6f3a8c"/>
<g><ellipse cx="156.6" cy="310.8" rx="4.4" ry="6.4" fill="#f7d6c2" stroke="#c99474" stroke-width="1.2"/><ellipse cx="212.4" cy="308.8" rx="7" ry="6.5" fill="#f7d6c2" stroke="#c99474" stroke-width="1.2"/><ellipse cx="195.8" cy="309.9" rx="2.5" ry="2.5" fill="#f7d6c2" stroke="#c99474" stroke-width="1.2"/><ellipse cx="235.6" cy="329.8" rx="6.5" ry="8.5" fill="#f7d6c2" stroke="#c99474" stroke-width="1.2"/><ellipse cx="156" cy="337.5" rx="6" ry="6.5" fill="#f7d6c2" stroke="#c99474" stroke-width="1.2"/><ellipse cx="148.3" cy="353" rx="3" ry="4" fill="#f7d6c2" stroke="#c99474" stroke-width="1.2"/><ellipse cx="152.7" cy="382.8" rx="5" ry="5.5" fill="#f7d6c2" stroke="#c99474" stroke-width="1.2"/><ellipse cx="173.3" cy="380.6" rx="2.5" ry="2.5" fill="#f7d6c2" stroke="#c99474" stroke-width="1.2"/><ellipse cx="208" cy="383.9" rx="6" ry="5" fill="#f7d6c2" stroke="#c99474" stroke-width="1.2"/><ellipse cx="231.1" cy="379.5" rx="5.5" ry="5" fill="#f7d6c2" stroke="#c99474" stroke-width="1.2"/><path d="M164.9 311C164.9 309 165.6 306.9 167.1 305.5C168.6 304.1 171.3 302.6 173.7 302.8C176.1 303 179.6 304.9 181.4 306.6C183.2 308.3 182.8 311.7 184.8 313.2C186.8 314.7 190.3 315 193.6 315.4C196.9 315.8 201.3 314.8 204.6 315.4C207.9 315.9 210.7 316.9 213.5 318.7C216.3 320.5 219.4 323.8 221.2 326.4C223 329 223.2 331.4 224.5 334.2C225.8 337 228.5 340.1 228.9 343C229.3 345.9 225.9 350.1 226.7 351.9C227.4 353.7 231.2 352.5 233.4 354C235.6 355.5 239.6 358.5 240 360.7C240.4 362.9 237.6 366.4 235.6 367.3C233.6 368.2 230.2 365.3 227.8 366.2C225.4 367.1 223.9 370.8 221.2 372.8C218.4 374.8 214.8 377.1 211.3 378.4C207.8 379.7 203.9 380.8 200.2 380.6C196.5 380.4 192.9 378.2 189.2 377.3C185.5 376.4 181.8 375.2 178.1 375C174.4 374.8 170.4 376.5 167.1 376.1C163.8 375.7 160.5 374.5 158.3 372.8C156.1 371.1 154 368.4 153.8 366.2C153.6 364 155.2 361.4 157.1 359.6C158.9 357.8 163.2 357.2 164.9 355.2C166.6 353.2 167.1 350.2 167.1 347.4C167.1 344.6 165.1 341.5 164.9 338.6C164.7 335.7 165.1 332.4 166 329.8C166.9 327.2 170.2 325.1 170.4 323.1C170.6 321.1 168 319.6 167.1 317.6C166.2 315.6 164.9 313 164.9 311Z" fill="#f7d6c2" stroke="#c99474" stroke-width="1.1"/><circle cx="178.5" cy="331.8" r="0.8" fill="#f0c6b0"/><circle cx="204" cy="322.2" r="0.8" fill="#f0c6b0"/><circle cx="194.1" cy="321.6" r="0.8" fill="#f0c6b0"/><circle cx="213.9" cy="350" r="0.8" fill="#f0c6b0"/><circle cx="216.9" cy="340" r="0.8" fill="#f0c6b0"/><circle cx="204.5" cy="341.5" r="0.8" fill="#f0c6b0"/><circle cx="182.8" cy="349.4" r="0.8" fill="#f0c6b0"/><circle cx="176.1" cy="342" r="0.8" fill="#f0c6b0"/><circle cx="208.7" cy="347.9" r="0.8" fill="#f0c6b0"/><circle cx="190.8" cy="371.9" r="0.8" fill="#f0c6b0"/><circle cx="197.1" cy="336.7" r="0.8" fill="#f0c6b0"/><circle cx="199.2" cy="337.5" r="0.8" fill="#f0c6b0"/><circle cx="188" cy="340.5" r="0.8" fill="#f0c6b0"/><circle cx="223.2" cy="347.3" r="0.8" fill="#f0c6b0"/><circle cx="199.2" cy="358.1" r="0.8" fill="#f0c6b0"/><circle cx="223" cy="344.2" r="0.8" fill="#f0c6b0"/><circle cx="188.9" cy="372.4" r="0.8" fill="#f0c6b0"/><circle cx="173.8" cy="342" r="0.8" fill="#f0c6b0"/><circle cx="204.1" cy="371.8" r="0.8" fill="#f0c6b0"/><circle cx="185.3" cy="322.5" r="0.8" fill="#f0c6b0"/><circle cx="207.4" cy="338.9" r="0.8" fill="#f0c6b0"/><circle cx="188.5" cy="355" r="0.8" fill="#f0c6b0"/><circle cx="201.8" cy="353.7" r="0.8" fill="#f0c6b0"/><circle cx="189.3" cy="365.2" r="0.8" fill="#f0c6b0"/><circle cx="218.9" cy="347.4" r="0.8" fill="#f0c6b0"/><circle cx="188.2" cy="358.4" r="0.8" fill="#f0c6b0"/><circle cx="203.7" cy="331.8" r="0.8" fill="#f0c6b0"/><circle cx="188.6" cy="362.3" r="0.8" fill="#f0c6b0"/><circle cx="193.4" cy="339" r="0.8" fill="#f0c6b0"/><circle cx="204.4" cy="345.8" r="0.8" fill="#f0c6b0"/><circle cx="195.9" cy="323.1" r="0.8" fill="#f0c6b0"/><circle cx="221.2" cy="349.6" r="0.8" fill="#f0c6b0"/><circle cx="182.2" cy="360.9" r="0.8" fill="#f0c6b0"/><circle cx="205" cy="347.5" r="0.8" fill="#f0c6b0"/><path d="M202.6 370.1C199.1 370.4 194.7 368.6 191.7 366.5C188.6 364.3 185.5 360.8 184.5 357.3C183.5 353.8 183.9 348.5 185.6 345.5C187.3 342.4 191.6 340.1 194.9 338.9C198.2 337.7 201.9 337.6 205.4 338.2C209 338.9 214.3 340 216.3 342.8C218.3 345.5 218 351 217.4 354.6C216.8 358.2 215 361.9 212.6 364.5C210.1 367.1 206.1 369.8 202.6 370.1Z" fill="#dbb0a1"/><circle cx="238.9" cy="349.2" r="2.2" fill="#fbeee6" stroke="#a98c78" stroke-width="1"/></g>
<g><ellipse cx="580.6" cy="313.6" rx="4.4" ry="6.4" fill="#f7d6c2" stroke="#c99474" stroke-width="1.2"/><ellipse cx="636.4" cy="311.6" rx="7" ry="6.5" fill="#f7d6c2" stroke="#c99474" stroke-width="1.2"/><ellipse cx="619.8" cy="312.7" rx="2.5" ry="2.5" fill="#f7d6c2" stroke="#c99474" stroke-width="1.2"/><ellipse cx="659.6" cy="332.6" rx="6.5" ry="8.5" fill="#f7d6c2" stroke="#c99474" stroke-width="1.2"/><ellipse cx="580" cy="340.3" rx="6" ry="6.5" fill="#f7d6c2" stroke="#c99474" stroke-width="1.2"/><ellipse cx="572.3" cy="355.8" rx="3" ry="4" fill="#f7d6c2" stroke="#c99474" stroke-width="1.2"/><ellipse cx="576.7" cy="385.6" rx="5" ry="5.5" fill="#f7d6c2" stroke="#c99474" stroke-width="1.2"/><ellipse cx="597.3" cy="383.4" rx="2.5" ry="2.5" fill="#dfe9f4" stroke="#9fb6d0" stroke-width="1.2"/><ellipse cx="632" cy="386.7" rx="6" ry="5" fill="#f7d6c2" stroke="#c99474" stroke-width="1.2"/><ellipse cx="655.1" cy="382.3" rx="5.5" ry="5" fill="#f7d6c2" stroke="#c99474" stroke-width="1.2"/><path d="M588.9 313.8C588.9 311.8 589.6 309.7 591.1 308.3C592.6 306.9 595.3 305.4 597.7 305.6C600.1 305.8 603.5 307.7 605.4 309.4C607.2 311.1 606.8 314.5 608.8 316C610.8 317.5 614.3 317.8 617.6 318.2C620.9 318.6 625.3 317.6 628.6 318.2C631.9 318.8 634.7 319.7 637.5 321.5C640.3 323.3 643.4 326.6 645.2 329.2C647 331.8 647.2 334.2 648.5 337C649.8 339.8 652.5 342.9 652.9 345.8C653.3 348.8 650 352.9 650.7 354.7C651.5 356.5 655.2 355.3 657.4 356.8C659.6 358.3 663.6 361.3 664 363.5C664.4 365.7 661.6 369.2 659.6 370.1C657.6 371 654.2 368.1 651.8 369C649.4 369.9 648 373.6 645.2 375.6C642.5 377.6 638.8 379.9 635.3 381.2C631.8 382.5 627.9 383.6 624.2 383.4C620.5 383.2 616.9 381 613.2 380.1C609.5 379.2 605.8 378 602.1 377.8C598.4 377.6 594.4 379.3 591.1 378.9C587.8 378.5 584.5 377.2 582.3 375.6C580.1 374 578 371.2 577.8 369C577.6 366.8 579.2 364.2 581.1 362.4C583 360.6 587.2 360 588.9 358C590.6 356 591.1 353 591.1 350.2C591.1 347.4 589.1 344.3 588.9 341.4C588.7 338.5 589.1 335.2 590 332.6C590.9 330 594.2 327.9 594.4 325.9C594.6 323.9 592 322.4 591.1 320.4C590.2 318.4 588.9 315.8 588.9 313.8Z" fill="#f7d6c2" stroke="#c99474" stroke-width="1.1"/><circle cx="602.5" cy="334.6" r="0.8" fill="#f0c6b0"/><circle cx="628" cy="325" r="0.8" fill="#f0c6b0"/><circle cx="618.1" cy="324.4" r="0.8" fill="#f0c6b0"/><circle cx="637.9" cy="352.8" r="0.8" fill="#f0c6b0"/><circle cx="640.9" cy="342.8" r="0.8" fill="#f0c6b0"/><circle cx="628.5" cy="344.3" r="0.8" fill="#f0c6b0"/><circle cx="606.8" cy="352.2" r="0.8" fill="#f0c6b0"/><circle cx="600.1" cy="344.8" r="0.8" fill="#f0c6b0"/><circle cx="632.7" cy="350.7" r="0.8" fill="#f0c6b0"/><circle cx="614.8" cy="374.7" r="0.8" fill="#f0c6b0"/><circle cx="621.1" cy="339.5" r="0.8" fill="#f0c6b0"/><circle cx="623.2" cy="340.3" r="0.8" fill="#f0c6b0"/><circle cx="612" cy="343.3" r="0.8" fill="#f0c6b0"/><circle cx="647.2" cy="350.1" r="0.8" fill="#f0c6b0"/><circle cx="623.2" cy="360.9" r="0.8" fill="#f0c6b0"/><circle cx="647" cy="347" r="0.8" fill="#f0c6b0"/><circle cx="612.9" cy="375.2" r="0.8" fill="#f0c6b0"/><circle cx="597.8" cy="344.8" r="0.8" fill="#f0c6b0"/><circle cx="628.1" cy="374.6" r="0.8" fill="#f0c6b0"/><circle cx="609.3" cy="325.3" r="0.8" fill="#f0c6b0"/><circle cx="631.4" cy="341.7" r="0.8" fill="#f0c6b0"/><circle cx="612.5" cy="357.8" r="0.8" fill="#f0c6b0"/><circle cx="625.8" cy="356.5" r="0.8" fill="#f0c6b0"/><circle cx="613.3" cy="368" r="0.8" fill="#f0c6b0"/><circle cx="642.9" cy="350.2" r="0.8" fill="#f0c6b0"/><circle cx="612.2" cy="361.2" r="0.8" fill="#f0c6b0"/><circle cx="627.7" cy="334.6" r="0.8" fill="#f0c6b0"/><circle cx="612.6" cy="365.1" r="0.8" fill="#f0c6b0"/><circle cx="617.4" cy="341.8" r="0.8" fill="#f0c6b0"/><circle cx="628.4" cy="348.6" r="0.8" fill="#f0c6b0"/><circle cx="619.9" cy="325.9" r="0.8" fill="#f0c6b0"/><circle cx="645.2" cy="352.4" r="0.8" fill="#f0c6b0"/><circle cx="606.2" cy="363.7" r="0.8" fill="#f0c6b0"/><circle cx="629" cy="350.3" r="0.8" fill="#f0c6b0"/><path d="M626.6 372.9C623.1 373.2 618.7 371.4 615.7 369.3C612.6 367.1 609.5 363.6 608.5 360.1C607.5 356.6 607.9 351.3 609.6 348.3C611.3 345.2 615.6 342.9 618.9 341.7C622.2 340.5 625.9 340.4 629.4 341C633 341.7 638.3 342.8 640.3 345.6C642.3 348.3 642 353.8 641.4 357.4C640.8 361 639 364.7 636.6 367.3C634.1 369.9 630.1 372.6 626.6 372.9Z" fill="#dbb0a1"/><circle cx="662.9" cy="352" r="2.2" fill="#fbeee6" stroke="#a98c78" stroke-width="1"/></g>
<line x1="241.5" y1="349.2" x2="285" y2="349.21" stroke="url(#gArr1)" stroke-width="1.5"/>
<polygon points="291,349.2 283.5,345.6 283.5,352.8" fill="#111"/>
<line x1="666" y1="351.8" x2="713" y2="351.81" stroke="url(#gArr2)" stroke-width="1.5"/>
<polygon points="719,351.8 711.5,348.2 711.5,355.4" fill="#111"/>
<path d="M318.6 366C318.5 367.5 318.4 368.9 318.1 370.3C317.7 371.7 317.3 373.2 316.5 374.2C315.8 375.3 314.6 375.9 313.6 376.5C312.6 377.2 311.6 377.8 310.5 378.1C309.4 378.5 308.3 378.6 307.2 378.6C306 378.6 304.7 378.8 303.7 378.2C302.7 377.7 302 376.3 301.1 375.3C300.2 374.4 299.1 373.7 298.4 372.5C297.8 371.3 297.3 369.8 297.2 368.3C297 366.9 297.3 365.4 297.4 364C297.5 362.5 297.4 361 297.8 359.6C298.2 358.3 298.9 357 299.7 356C300.4 354.9 301.3 354 302.3 353.2C303.2 352.3 304.2 351.1 305.3 350.8C306.4 350.5 307.7 351.2 308.8 351.6C309.9 351.9 310.9 352.2 312 352.6C313.1 353 314.5 353.1 315.4 353.9C316.3 354.8 316.8 356.4 317.3 357.7C317.8 359 318.2 360.4 318.4 361.8C318.6 363.2 318.6 364.6 318.6 366Z" fill="#fae4d8" stroke="#efcfbc" stroke-width="0.9" stroke-linejoin="round"/>
<path d="M320.1 343.5C319.4 345 318.6 346.5 317.7 347.8C316.8 349.2 315.9 350.9 314.7 351.8C313.4 352.6 311.8 352.6 310.4 352.8C309 353 307.5 353.5 306.1 353.1C304.8 352.7 303.6 351.3 302.4 350.4C301.2 349.5 299.9 348.9 298.8 347.7C297.7 346.5 296.6 345.1 296 343.4C295.4 341.8 295.3 339.8 295.1 338C294.9 336.1 294.5 334.2 294.7 332.4C294.8 330.6 295.4 328.6 296.2 327C296.9 325.5 298.1 324.2 299.2 323.1C300.3 322 301.6 321.4 302.8 320.5C304 319.6 305.2 318.1 306.5 317.8C307.9 317.5 309.4 318.3 310.7 318.8C312.1 319.3 313.3 320 314.5 320.7C315.8 321.4 317.3 321.9 318.4 323.1C319.5 324.2 320.3 325.9 321 327.6C321.6 329.2 322 331.1 322.3 332.9C322.5 334.8 322.7 336.9 322.3 338.6C322 340.4 320.9 341.9 320.1 343.5Z" fill="#f8dccb" stroke="#e2b79c" stroke-width="0.9" stroke-linejoin="round"/><path d="M313.5 340.1C312.2 341 310.3 341.6 308.7 341.5C307.1 341.3 304.9 340.6 303.9 339.4C302.9 338.2 302.4 335.8 302.6 334.1C302.9 332.5 304 330.5 305.3 329.6C306.6 328.6 308.8 328 310.3 328.3C311.8 328.6 313.2 330 314.3 331.3C315.3 332.5 316.6 334.4 316.5 335.9C316.4 337.3 314.8 339.2 313.5 340.1Z" fill="#e6c2b8"/>
<path d="M343.6 309.4C344.1 308.3 344.7 307 345.6 306.1C346.6 305.3 347.9 304.9 349.1 304.3C350.3 303.7 351.4 303 352.6 302.7C353.9 302.3 355.3 302.2 356.6 302.3C357.9 302.4 359.4 302.7 360.5 303.3C361.6 304 362.4 305.2 363.3 306.1C364.2 307 365.4 307.7 366.1 308.7C366.8 309.8 367.2 311.1 367.4 312.3C367.6 313.6 367.5 314.8 367.4 316.1C367.3 317.4 367.3 318.8 366.8 319.9C366.2 321 365.1 322 364.1 322.8C363.2 323.7 362.1 324.4 361 325.1C359.9 325.7 358.7 326.6 357.4 326.9C356.2 327.1 354.7 326.9 353.4 326.7C352.1 326.4 350.9 325.8 349.8 325.3C348.6 324.7 347.5 324 346.6 323.2C345.6 322.4 344.6 321.4 344 320.4C343.5 319.3 343.5 318 343.2 316.8C343 315.5 342.4 314.3 342.5 313.1C342.5 311.9 343 310.6 343.6 309.4Z" fill="#f8dccb" stroke="#e2b79c" stroke-width="0.9" stroke-linejoin="round"/><path d="M348.3 317.3C348.4 316.2 349.5 314.9 350.4 314C351.2 313.2 352.5 312.3 353.6 312.3C354.7 312.3 356 313.1 356.8 313.9C357.7 314.7 358.8 316 358.8 317.1C358.9 318.2 357.9 319.6 357.1 320.4C356.3 321.3 355 321.9 353.8 322C352.6 322.1 351 321.8 350 321.1C349.1 320.3 348.3 318.5 348.3 317.3Z" fill="#e8c0ba"/>
<path d="M343.6 367.6C344 366.2 344.3 364.7 345 363.4C345.8 362.1 346.9 360.9 348.2 359.9C349.5 358.9 351 357.9 352.6 357.4C354.2 356.9 356.1 357 357.8 356.8C359.6 356.6 361.4 355.9 363.1 356.2C364.7 356.4 366.3 357.4 367.8 358.2C369.2 359 370.6 359.8 371.7 360.8C372.8 361.9 373.6 363.1 374.3 364.4C375.1 365.6 376.1 366.9 376.4 368.2C376.6 369.5 376.1 371 375.7 372.3C375.4 373.7 374.9 375 374.2 376.3C373.5 377.5 372.7 378.8 371.5 379.9C370.4 380.9 368.9 381.8 367.3 382.5C365.8 383.1 364 383.6 362.3 383.7C360.6 383.7 358.8 383.2 357.2 382.8C355.5 382.4 354 382 352.5 381.4C351 380.8 349.6 380 348.3 379.1C347.1 378.2 345.9 377.1 345.1 375.9C344.2 374.7 343.4 373.2 343.1 371.9C342.9 370.5 343.3 369 343.6 367.6Z" fill="#f8dccb" stroke="#e2b79c" stroke-width="0.9" stroke-linejoin="round"/><path d="M359.2 361C360.6 360.9 362.5 362.3 363.6 363.4C364.8 364.4 365.5 365.8 365.8 367.3C366.1 368.8 366.5 371.3 365.6 372.4C364.8 373.6 362.3 374.2 360.7 374.2C359.2 374.3 357.4 373.7 356.2 372.8C355 371.9 353.8 370.2 353.5 368.8C353.3 367.3 353.9 365.2 354.8 363.9C355.8 362.6 357.7 361.1 359.2 361Z" fill="#e8c0ba"/>
<path d="M313.7 355.2C314.1 353.3 315.2 351.4 316.4 349.7C317.5 348.1 318.9 346.3 320.5 345.2C322.2 344.2 324.3 344 326.3 343.3C328.2 342.7 330.1 341.3 332 341.2C333.9 341.1 336 342.1 337.9 342.8C339.8 343.4 341.8 344.1 343.5 345.2C345.1 346.3 346.6 347.8 347.8 349.4C349.1 351 350.4 352.8 350.9 354.7C351.4 356.6 350.9 358.8 350.8 360.8C350.7 362.8 350.6 364.7 350.1 366.6C349.6 368.5 349.1 370.6 348 372.2C346.9 373.9 345.2 375.2 343.6 376.4C342 377.6 340.3 378.9 338.4 379.4C336.5 380 334.4 379.7 332.4 379.8C330.4 379.8 328.1 380.5 326.3 379.9C324.5 379.2 323.3 377 321.7 375.8C320.1 374.6 317.8 374 316.6 372.5C315.4 371.1 314.8 368.9 314.4 367C314 365.1 314.1 363.1 314 361.2C313.9 359.2 313.3 357.1 313.7 355.2Z" fill="#f6d2bd" stroke="#d29c7a" stroke-width="0.9" stroke-linejoin="round"/><path d="M335.2 370.2C333.4 370.7 331 369.8 329.2 368.9C327.4 368.1 324.8 366.7 324.2 365C323.6 363.3 324.8 360.5 325.7 358.7C326.7 357 328.3 355.2 330.1 354.5C331.9 353.8 334.7 353.7 336.5 354.5C338.3 355.3 340.4 357.5 341 359.4C341.6 361.3 341 364.2 340 366C339.1 367.7 337 369.7 335.2 370.2Z" fill="#deb2a1"/>
<path d="M321.7 341.2C319.8 340.4 318.1 338.8 316.7 337.3C315.2 335.7 313.9 333.8 313.1 331.9C312.2 330 311.7 327.8 311.5 325.7C311.2 323.6 310.9 321.3 311.5 319.3C312 317.4 313.9 315.8 314.9 314C316 312.2 316.3 309.9 317.7 308.5C319.1 307.1 321.2 306.5 323.1 305.6C324.9 304.6 326.7 303.3 328.7 303C330.7 302.7 332.9 303.2 334.9 303.6C336.9 304.1 338.9 304.5 340.7 305.5C342.5 306.4 344.2 307.8 345.6 309.3C347 310.7 348.2 312.5 349.2 314.3C350.1 316.2 351 318.2 351.4 320.3C351.8 322.3 352 324.7 351.5 326.7C351 328.7 349.5 330.4 348.4 332.2C347.4 334.1 346.7 336.2 345.3 337.7C344 339.2 342.1 340.7 340.2 341.5C338.3 342.2 336 342.4 334 342.4C332 342.5 330.1 342 328 341.8C326 341.6 323.6 342 321.7 341.2Z" fill="#f6d2bd" stroke="#d29c7a" stroke-width="0.9" stroke-linejoin="round"/><path d="M332.9 313.2C335 313.8 337.8 314.5 338.8 316.1C339.7 317.7 339.5 320.8 338.8 322.7C338.2 324.5 336.4 326.3 334.8 327.2C333.2 328 330.9 328.4 329 328C327.2 327.6 324.8 326.4 323.7 324.8C322.7 323.2 322.2 320.4 322.7 318.4C323.1 316.4 324.8 313.7 326.5 312.9C328.2 312 330.9 312.7 332.9 313.2Z" fill="#deb2a1"/>
<path d="M341.5 334C343 327 349 324.5 355 323.5C361 322 368 322.5 372 325.5C378 330 382 335.5 390 336C393.5 331.5 399.5 329 404.5 331.5C409.5 334.5 409.5 341.5 404.5 344.5C399.5 347 394.5 345 391 341.5C384.5 343 381 350 376.5 356C372 361.5 366 364.5 360 364C353 363 347.5 359.5 344 354.5C340 349 340 341 341.5 334Z" fill="#f6d2bd" stroke="#d29c7a" stroke-width="0.9" stroke-linejoin="round"/>
<path d="M354.5 344C354 337.5 359.5 334 366 335.5C371 336.8 375 340 380 340.5C375.5 343.5 373 349 368.5 352.5C362 356 355 351 354.5 344Z" fill="#deb2a1"/>
<text x="347.6" y="402" font-size="11.9" text-anchor="middle" fill="#222">Tumor recurrence</text>
<g><circle cx="753.3" cy="336.9" r="4" fill="#f9e1d5" opacity="0.75"/><circle cx="772.1" cy="386.7" r="5.4" fill="#f9e1d5" opacity="0.5"/><circle cx="781.7" cy="338.3" r="4.5" fill="#f9e1d5" opacity="0.75"/><circle cx="789.7" cy="354.8" r="4.8" fill="#f9e1d5" opacity="0.75"/><circle cx="789.2" cy="354.2" r="5.3" fill="#f9e1d5" opacity="0.75"/><circle cx="741.8" cy="344.1" r="5.1" fill="#f9e1d5" opacity="0.75"/><circle cx="772.3" cy="334.4" r="5.8" fill="#f9e1d5" opacity="0.75"/><circle cx="756.5" cy="325.7" r="3.5" fill="#f9e1d5" opacity="0.75"/><circle cx="792.5" cy="343.6" r="3.3" fill="#f9e1d5" opacity="0.75"/><circle cx="800.4" cy="373.1" r="5.1" fill="#f9e1d5" opacity="0.3"/><circle cx="779.3" cy="316.3" r="4.9" fill="#f9e1d5" opacity="0.5"/><circle cx="794.3" cy="345.9" r="4.9" fill="#f9e1d5" opacity="0.75"/><circle cx="782.7" cy="321" r="6" fill="#f9e1d5" opacity="0.5"/><circle cx="731.5" cy="333.8" r="3.2" fill="#f9e1d5" opacity="0.5"/><circle cx="769.2" cy="375.1" r="3.3" fill="#f9e1d5" opacity="0.75"/><circle cx="767.8" cy="370.2" r="4" fill="#f9e1d5" opacity="0.75"/><circle cx="746.6" cy="330.3" r="4.3" fill="#f9e1d5" opacity="0.75"/><circle cx="772" cy="373.9" r="6.3" fill="#f9e1d5" opacity="0.75"/><circle cx="744.1" cy="323.8" r="3.6" fill="#f9e1d5" opacity="0.5"/><circle cx="762.5" cy="329.2" r="4.3" fill="#f9e1d5" opacity="0.75"/><circle cx="802.1" cy="348.2" r="4.9" fill="#f9e1d5" opacity="0.5"/><circle cx="748.5" cy="314.3" r="5.7" fill="#f9e1d5" opacity="0.3"/><circle cx="768" cy="368.3" r="4.1" fill="#f9e1d5" opacity="0.75"/><circle cx="762.8" cy="373.1" r="6.3" fill="#f9e1d5" opacity="0.75"/><circle cx="785" cy="332.6" r="5.3" fill="#f9e1d5" opacity="0.75"/><circle cx="730.2" cy="375.8" r="4.6" fill="#f9e1d5" opacity="0.3"/><circle cx="763.1" cy="374.1" r="5" fill="#f9e1d5" opacity="0.75"/><circle cx="762.7" cy="383" r="6.1" fill="#f9e1d5" opacity="0.5"/><circle cx="745.6" cy="364.1" r="6.5" fill="#f9e1d5" opacity="0.75"/><circle cx="744.6" cy="349.3" r="3.2" fill="#f9e1d5" opacity="0.75"/><circle cx="793.5" cy="372" r="5.8" fill="#f9e1d5" opacity="0.5"/><circle cx="747.7" cy="359.3" r="4.3" fill="#f9e1d5" opacity="0.75"/><circle cx="799" cy="349.7" r="6.4" fill="#f9e1d5" opacity="0.75"/><circle cx="777.5" cy="337.1" r="5.5" fill="#f9e1d5" opacity="0.75"/><circle cx="751.5" cy="322" r="3.9" fill="#f9e1d5" opacity="0.75"/><circle cx="751.9" cy="335" r="4.5" fill="#f9e1d5" opacity="0.75"/><circle cx="721.8" cy="362.7" r="6.1" fill="#f9e1d5" opacity="0.3"/><circle cx="762.8" cy="380.8" r="3.6" fill="#f9e1d5" opacity="0.75"/><circle cx="802.4" cy="329.5" r="4" fill="#f9e1d5" opacity="0.3"/><circle cx="742.5" cy="325" r="3.5" fill="#f9e1d5" opacity="0.5"/><circle cx="768.1" cy="319.1" r="5.7" fill="#f9e1d5" opacity="0.75"/><circle cx="747.5" cy="347.3" r="4.1" fill="#f9e1d5" opacity="0.75"/><circle cx="810.1" cy="355.6" r="6.1" fill="#f9e1d5" opacity="0.3"/><circle cx="778.8" cy="328.5" r="3.2" fill="#f9e1d5" opacity="0.75"/><circle cx="798.2" cy="321.2" r="3.3" fill="#f9e1d5" opacity="0.3"/><circle cx="745.2" cy="352.2" r="5.7" fill="#f9e1d5" opacity="0.75"/><circle cx="767.7" cy="330.1" r="4.7" fill="#f9e1d5" opacity="0.75"/><circle cx="740.8" cy="343.1" r="6.1" fill="#f9e1d5" opacity="0.75"/><circle cx="743.9" cy="361.1" r="4.9" fill="#f9e1d5" opacity="0.75"/><circle cx="762.5" cy="328.2" r="4.1" fill="#f9e1d5" opacity="0.75"/><circle cx="802.4" cy="349.4" r="4.5" fill="#f9e1d5" opacity="0.5"/><circle cx="743.8" cy="348.3" r="3.8" fill="#f9e1d5" opacity="0.75"/><circle cx="747" cy="378.4" r="3.8" fill="#f9e1d5" opacity="0.5"/><circle cx="769.3" cy="369.2" r="5.2" fill="#f9e1d5" opacity="0.75"/><circle cx="771.3" cy="391.3" r="6" fill="#f9e1d5" opacity="0.3"/><circle cx="788.2" cy="360.6" r="5.3" fill="#f9e1d5" opacity="0.75"/><circle cx="770.4" cy="370.6" r="6.3" fill="#f9e1d5" opacity="0.75"/><circle cx="736.8" cy="337.7" r="5.7" fill="#f9e1d5" opacity="0.75"/><circle cx="773.9" cy="329.8" r="3.3" fill="#f9e1d5" opacity="0.75"/><circle cx="737.9" cy="362.4" r="4.6" fill="#f9e1d5" opacity="0.75"/><circle cx="760.6" cy="315.8" r="6.4" fill="#f9e1d5" opacity="0.5"/><circle cx="789.8" cy="366.6" r="4.2" fill="#f9e1d5" opacity="0.75"/><circle cx="781.9" cy="332.4" r="3.7" fill="#f9e1d5" opacity="0.75"/><circle cx="736.7" cy="359.5" r="4" fill="#f9e1d5" opacity="0.75"/><circle cx="765.6" cy="392.2" r="4.6" fill="#f9e1d5" opacity="0.3"/><circle cx="787.4" cy="326.2" r="3.2" fill="#f9e1d5" opacity="0.75"/><circle cx="807.7" cy="350.3" r="6.4" fill="#f9e1d5" opacity="0.3"/><circle cx="803.6" cy="332.8" r="3.6" fill="#f9e1d5" opacity="0.3"/><circle cx="741.1" cy="352.6" r="4.4" fill="#f9e1d5" opacity="0.75"/><circle cx="792.7" cy="360.3" r="6.4" fill="#f9e1d5" opacity="0.75"/><circle cx="761.6" cy="388.3" r="4.6" fill="#f9e1d5" opacity="0.5"/><circle cx="725" cy="370.3" r="6.5" fill="#f9e1d5" opacity="0.3"/><circle cx="729" cy="338.1" r="3.5" fill="#f9e1d5" opacity="0.5"/><circle cx="752.2" cy="391.5" r="5" fill="#f9e1d5" opacity="0.3"/><circle cx="727.2" cy="340.8" r="3.2" fill="#f9e1d5" opacity="0.5"/><circle cx="737.2" cy="335.1" r="6" fill="#f9e1d5" opacity="0.75"/><circle cx="790.7" cy="386.1" r="3.3" fill="#f9e1d5" opacity="0.3"/><circle cx="779.4" cy="380.8" r="5.4" fill="#f9e1d5" opacity="0.5"/><circle cx="767.5" cy="370.7" r="6.1" fill="#f9e1d5" opacity="0.75"/><circle cx="766.3" cy="383.4" r="5.2" fill="#f9e1d5" opacity="0.5"/><circle cx="734.9" cy="366.4" r="4.8" fill="#f9e1d5" opacity="0.5"/><circle cx="787.7" cy="341.5" r="5.5" fill="#f9e1d5" opacity="0.75"/><circle cx="767.6" cy="378.1" r="5.4" fill="#f9e1d5" opacity="0.75"/><circle cx="757" cy="374.8" r="5.6" fill="#f9e1d5" opacity="0.75"/><circle cx="793.7" cy="363.4" r="6.5" fill="#f9e1d5" opacity="0.75"/><circle cx="785.9" cy="350" r="3.7" fill="#f9e1d5" opacity="0.75"/><circle cx="761.2" cy="392.2" r="6.1" fill="#f9e1d5" opacity="0.3"/><circle cx="786.5" cy="332" r="3.6" fill="#f9e1d5" opacity="0.75"/><circle cx="784.8" cy="319.5" r="5.1" fill="#f9e1d5" opacity="0.5"/><circle cx="802.4" cy="347.7" r="3" fill="#f9e1d5" opacity="0.5"/><circle cx="776.5" cy="327.6" r="5.3" fill="#f9e1d5" opacity="0.75"/><circle cx="786.1" cy="342.8" r="3.4" fill="#f9e1d5" opacity="0.75"/><circle cx="792.2" cy="370.3" r="4" fill="#f9e1d5" opacity="0.75"/><circle cx="734.8" cy="328.4" r="3.7" fill="#f9e1d5" opacity="0.5"/><circle cx="748.3" cy="332.5" r="4.7" fill="#f9e1d5" opacity="0.75"/><circle cx="800.7" cy="328.3" r="3.3" fill="#f9e1d5" opacity="0.3"/><circle cx="742.2" cy="361.8" r="3" fill="#f9e1d5" opacity="0.75"/><circle cx="770.3" cy="316.8" r="3.9" fill="#f9e1d5" opacity="0.5"/><circle cx="763.6" cy="318.8" r="4.5" fill="#f9e1d5" opacity="0.75"/><circle cx="786" cy="351.7" r="6.1" fill="#f9e1d5" opacity="0.75"/><circle cx="793.4" cy="332.6" r="5.9" fill="#f9e1d5" opacity="0.75"/><circle cx="745.9" cy="340.1" r="3.4" fill="#f9e1d5" opacity="0.75"/><circle cx="749.7" cy="388.8" r="5.8" fill="#f9e1d5" opacity="0.3"/><circle cx="793.7" cy="319" r="3.7" fill="#f9e1d5" opacity="0.3"/><circle cx="765.6" cy="370.3" r="5.7" fill="#f9e1d5" opacity="0.75"/><circle cx="787.9" cy="331.9" r="5.2" fill="#f9e1d5" opacity="0.75"/><circle cx="790.9" cy="385" r="6" fill="#f9e1d5" opacity="0.3"/><circle cx="806.6" cy="344.7" r="6.1" fill="#f9e1d5" opacity="0.5"/><circle cx="804.4" cy="356.2" r="4.2" fill="#f9e1d5" opacity="0.5"/><circle cx="802.9" cy="334.3" r="6" fill="#f9e1d5" opacity="0.5"/><circle cx="775.2" cy="328" r="5.8" fill="#f9e1d5" opacity="0.75"/><circle cx="799.2" cy="375.8" r="6" fill="#f9e1d5" opacity="0.3"/><circle cx="772.7" cy="388.7" r="4.6" fill="#f9e1d5" opacity="0.5"/><circle cx="751.5" cy="386.5" r="3.8" fill="#f9e1d5" opacity="0.5"/><circle cx="789.1" cy="353.8" r="4.1" fill="#f9e1d5" opacity="0.75"/><circle cx="795.8" cy="318.3" r="4" fill="#f9e1d5" opacity="0.3"/><circle cx="746.7" cy="329" r="6.4" fill="#f9e1d5" opacity="0.75"/><circle cx="721.5" cy="341" r="3.4" fill="#f9e1d5" opacity="0.3"/><circle cx="788.6" cy="346.5" r="6.4" fill="#f9e1d5" opacity="0.75"/><circle cx="763.4" cy="370.4" r="4.5" fill="#f9e1d5" opacity="0.75"/><circle cx="761.8" cy="325.3" r="5.1" fill="#f9e1d5" opacity="0.75"/><circle cx="736.2" cy="348.5" r="5" fill="#f9e1d5" opacity="0.75"/><circle cx="764.4" cy="386.4" r="3" fill="#f9e1d5" opacity="0.5"/><circle cx="795.6" cy="336.3" r="5.5" fill="#f9e1d5" opacity="0.75"/><circle cx="763.6" cy="315.6" r="4.3" fill="#f9e1d5" opacity="0.5"/><circle cx="799.3" cy="365.3" r="4.2" fill="#f9e1d5" opacity="0.5"/><circle cx="748.9" cy="387" r="5.5" fill="#f9e1d5" opacity="0.3"/><circle cx="757" cy="374.6" r="4.4" fill="#f9e1d5" opacity="0.75"/><circle cx="743.6" cy="364.9" r="3.4" fill="#f9e1d5" opacity="0.75"/><circle cx="725.8" cy="370.7" r="5.4" fill="#f9e1d5" opacity="0.3"/><circle cx="794.9" cy="331.3" r="4.1" fill="#f9e1d5" opacity="0.5"/><circle cx="748" cy="345.4" r="4" fill="#f9e1d5" opacity="0.75"/><circle cx="733.9" cy="364.4" r="5.3" fill="#f9e1d5" opacity="0.5"/><circle cx="735.3" cy="356.8" r="3.7" fill="#f9e1d5" opacity="0.75"/><circle cx="722" cy="357.4" r="5.8" fill="#f9e1d5" opacity="0.3"/><circle cx="775.5" cy="367.4" r="4.8" fill="#f9e1d5" opacity="0.75"/><circle cx="746.8" cy="331.2" r="5.9" fill="#f9e1d5" opacity="0.75"/><circle cx="765.8" cy="315.5" r="3.8" fill="#f9e1d5" opacity="0.5"/><circle cx="771.5" cy="367.4" r="3.9" fill="#f9e1d5" opacity="0.75"/><circle cx="723.4" cy="356.7" r="3.3" fill="#f9e1d5" opacity="0.3"/><circle cx="734.3" cy="367.8" r="3.7" fill="#f9e1d5" opacity="0.5"/><circle cx="754.8" cy="322" r="3.9" fill="#f9e1d5" opacity="0.75"/><circle cx="755.2" cy="336.2" r="5.6" fill="#f9e1d5" opacity="0.75"/><circle cx="768.2" cy="330.7" r="4.5" fill="#f9e1d5" opacity="0.75"/><circle cx="786" cy="388.5" r="4.8" fill="#f9e1d5" opacity="0.3"/><circle cx="789.7" cy="357.9" r="6" fill="#f9e1d5" opacity="0.75"/><circle cx="725.8" cy="360.9" r="5.3" fill="#f9e1d5" opacity="0.5"/><circle cx="800.8" cy="348" r="6.3" fill="#f9e1d5" opacity="0.5"/><circle cx="793.3" cy="329.4" r="5.5" fill="#f9e1d5" opacity="0.5"/><circle cx="723.4" cy="349.3" r="4.9" fill="#f9e1d5" opacity="0.3"/><path d="M749.1 355.9C746 356.3 742.6 354.8 739.4 353.9C736.2 352.9 731.4 352.5 729.7 350.1C727.9 347.7 729.3 342.9 728.9 339.6C728.6 336.3 726.6 333 727.4 330.1C728.1 327.3 731 324.4 733.4 322.4C735.9 320.5 739 318.9 742.1 318.2C745.2 317.4 749 317 752 318C755 319 757.8 321.5 760.2 323.9C762.5 326.4 765.2 329.4 766.1 332.6C767 335.9 766.7 340.3 765.4 343.5C764.2 346.7 761.2 349.6 758.5 351.7C755.8 353.7 752.3 355.6 749.1 355.9Z" fill="#f9dfd2" opacity="0.9"/><path d="M773.7 322.4C776.2 320.7 779.6 319 782.7 318.9C785.7 318.9 789 320.4 792 321.8C795 323.3 798.9 325 800.8 327.7C802.7 330.5 803.5 334.8 803.5 338.3C803.4 341.8 802.5 346.1 800.4 348.7C798.4 351.3 794.3 352.4 791.2 353.8C788.2 355.1 785.1 356.9 782.2 356.8C779.2 356.7 776.1 354.8 773.4 353.1C770.7 351.5 767.5 349.7 766.1 347.1C764.7 344.6 764.7 340.8 765 337.8C765.2 334.8 765.9 331.6 767.3 329C768.8 326.5 771.1 324.1 773.7 322.4Z" fill="#f9dfd2" opacity="0.9"/><path d="M762.8 388.1C759.5 387.1 756.5 384.2 754.2 381.7C751.8 379.3 749.9 376.6 748.5 373.5C747.2 370.4 745.4 366.4 745.9 363.3C746.5 360.2 749.8 357.4 752 354.7C754.3 351.9 756.2 348.4 759.3 346.8C762.4 345.2 767.2 344.3 770.5 345.2C773.8 346.1 776.3 349.9 779 352.3C781.7 354.7 785.2 356.7 786.7 359.8C788.1 362.8 788.2 367.3 787.5 370.7C786.8 374.2 784.7 377.6 782.5 380.4C780.2 383.2 777.3 386.4 774.1 387.7C770.8 389 766.1 389.1 762.8 388.1Z" fill="#f9dfd2" opacity="0.9"/><path d="M777.9 349.7C777.5 351.9 776.2 353.9 774.8 355.9C773.5 357.9 771.9 360.7 769.7 361.7C767.6 362.7 764.3 362.4 761.8 361.9C759.3 361.4 756.2 360.2 754.7 358.4C753.3 356.5 753.6 353.3 753 350.9C752.3 348.5 750.8 346.3 751 344C751.1 341.7 752.4 338.9 754 337.1C755.6 335.2 758.1 333.2 760.4 332.8C762.7 332.4 765.1 334.3 767.6 334.8C770.1 335.2 773.8 334.2 775.3 335.6C776.9 337 776.5 340.8 776.9 343.2C777.3 345.5 778.2 347.6 777.9 349.7Z" fill="#f9dfd2" opacity="0.9"/><ellipse cx="776.1" cy="357.6" rx="3.1" ry="2.5" transform="rotate(49 776.1 357.6)" fill="#f5cdb9" stroke="#e0b49e" stroke-width="0.5"/><ellipse cx="758.2" cy="360.7" rx="3.8" ry="2.5" transform="rotate(99 758.2 360.7)" fill="#f5cdb9" stroke="#e0b49e" stroke-width="0.5"/><ellipse cx="761.4" cy="361.6" rx="1.9" ry="1.6" transform="rotate(134 761.4 361.6)" fill="#f7d4c1" stroke="#e0b49e" stroke-width="0.5"/><ellipse cx="787.1" cy="360.5" rx="3.5" ry="2.4" transform="rotate(142 787.1 360.5)" fill="#f5cdb9" stroke="#e0b49e" stroke-width="0.5"/><ellipse cx="797.1" cy="352" rx="2.3" ry="2.1" transform="rotate(48 797.1 352)" fill="#f8dbca" stroke="#e0b49e" stroke-width="0.5"/><ellipse cx="750.8" cy="342.5" rx="2.2" ry="1.5" transform="rotate(105 750.8 342.5)" fill="#f5cdb9" stroke="#e0b49e" stroke-width="0.5"/><ellipse cx="780.3" cy="318" rx="3.5" ry="2.6" transform="rotate(87 780.3 318)" fill="#fae3d7" stroke="#e0b49e" stroke-width="0.5"/><ellipse cx="754" cy="318.2" rx="2.8" ry="2.2" transform="rotate(81 754 318.2)" fill="#fae3d7" stroke="#e0b49e" stroke-width="0.5"/><ellipse cx="779.8" cy="346.3" rx="3.5" ry="3.5" transform="rotate(42 779.8 346.3)" fill="#f5cdb9" stroke="#e0b49e" stroke-width="0.5"/><ellipse cx="798.2" cy="350.4" rx="2" ry="1.8" transform="rotate(7 798.2 350.4)" fill="#f5cdb9" stroke="#e0b49e" stroke-width="0.5"/><ellipse cx="784.3" cy="378.4" rx="3.1" ry="2.9" transform="rotate(69 784.3 378.4)" fill="#f7d4c1" stroke="#e0b49e" stroke-width="0.5"/><ellipse cx="757.6" cy="320.6" rx="2.6" ry="1.5" transform="rotate(90 757.6 320.6)" fill="#fae3d7" stroke="#e0b49e" stroke-width="0.5"/><ellipse cx="802.3" cy="339.3" rx="3.5" ry="3.3" transform="rotate(79 802.3 339.3)" fill="#f5cdb9" stroke="#e0b49e" stroke-width="0.5"/><ellipse cx="765.3" cy="346.1" rx="1.5" ry="0.9" transform="rotate(156 765.3 346.1)" fill="#f7d4c1" stroke="#e0b49e" stroke-width="0.5"/><ellipse cx="755.6" cy="349.4" rx="1.7" ry="1.5" transform="rotate(47 755.6 349.4)" fill="#f5cdb9" stroke="#e0b49e" stroke-width="0.5"/><ellipse cx="758.7" cy="347.9" rx="3" ry="2.8" transform="rotate(153 758.7 347.9)" fill="#f5cdb9" stroke="#e0b49e" stroke-width="0.5"/><ellipse cx="728.4" cy="345.9" rx="3.7" ry="3.1" transform="rotate(159 728.4 345.9)" fill="#f5cdb9" stroke="#e0b49e" stroke-width="0.5"/><ellipse cx="758.1" cy="334.4" rx="3.5" ry="2" transform="rotate(12 758.1 334.4)" fill="#fae3d7" stroke="#e0b49e" stroke-width="0.5"/><ellipse cx="754.3" cy="350.6" rx="3.8" ry="3.4" transform="rotate(78 754.3 350.6)" fill="#f8dbca" stroke="#e0b49e" stroke-width="0.5"/><ellipse cx="772.1" cy="354.2" rx="3.2" ry="2.8" transform="rotate(18 772.1 354.2)" fill="#f7d4c1" stroke="#e0b49e" stroke-width="0.5"/><ellipse cx="747.9" cy="374" rx="3.1" ry="3" transform="rotate(8 747.9 374)" fill="#f8dbca" stroke="#e0b49e" stroke-width="0.5"/><ellipse cx="780.2" cy="356.8" rx="2.2" ry="1.6" transform="rotate(26 780.2 356.8)" fill="#f5cdb9" stroke="#e0b49e" stroke-width="0.5"/><ellipse cx="745.7" cy="317.8" rx="2.8" ry="2.5" transform="rotate(30 745.7 317.8)" fill="#f8dbca" stroke="#e0b49e" stroke-width="0.5"/><ellipse cx="770.1" cy="324" rx="2.9" ry="2.1" transform="rotate(122 770.1 324)" fill="#f5cdb9" stroke="#e0b49e" stroke-width="0.5"/><ellipse cx="793.3" cy="322.9" rx="3.6" ry="2.2" transform="rotate(83 793.3 322.9)" fill="#fae3d7" stroke="#e0b49e" stroke-width="0.5"/><ellipse cx="780.1" cy="356.3" rx="2.6" ry="2.2" transform="rotate(161 780.1 356.3)" fill="#f5cdb9" stroke="#e0b49e" stroke-width="0.5"/><ellipse cx="786.7" cy="355.8" rx="3.6" ry="3.1" transform="rotate(28 786.7 355.8)" fill="#f5cdb9" stroke="#e0b49e" stroke-width="0.5"/><ellipse cx="764.2" cy="339.1" rx="3.7" ry="3.7" transform="rotate(53 764.2 339.1)" fill="#f5cdb9" stroke="#e0b49e" stroke-width="0.5"/><ellipse cx="734.9" cy="321.8" rx="3.1" ry="2.3" transform="rotate(54 734.9 321.8)" fill="#f5cdb9" stroke="#e0b49e" stroke-width="0.5"/><ellipse cx="796.8" cy="348.8" rx="3.5" ry="2.1" transform="rotate(68 796.8 348.8)" fill="#fae3d7" stroke="#e0b49e" stroke-width="0.5"/><ellipse cx="739.9" cy="319.4" rx="2.8" ry="2.8" transform="rotate(53 739.9 319.4)" fill="#f5cdb9" stroke="#e0b49e" stroke-width="0.5"/><ellipse cx="756.6" cy="322.4" rx="2.1" ry="1.7" transform="rotate(123 756.6 322.4)" fill="#f8dbca" stroke="#e0b49e" stroke-width="0.5"/><ellipse cx="765" cy="334" rx="3.6" ry="3.2" transform="rotate(149 765 334)" fill="#fae3d7" stroke="#e0b49e" stroke-width="0.5"/><ellipse cx="764.6" cy="339.3" rx="3.3" ry="2.1" transform="rotate(144 764.6 339.3)" fill="#f7d4c1" stroke="#e0b49e" stroke-width="0.5"/><ellipse cx="735.2" cy="322" rx="3" ry="2.5" transform="rotate(121 735.2 322)" fill="#f7d4c1" stroke="#e0b49e" stroke-width="0.5"/><ellipse cx="734.9" cy="350.8" rx="2.9" ry="2.8" transform="rotate(116 734.9 350.8)" fill="#fae3d7" stroke="#e0b49e" stroke-width="0.5"/><ellipse cx="784.7" cy="371.7" rx="3.3" ry="1.9" transform="rotate(65 784.7 371.7)" fill="#f7d4c1" stroke="#e0b49e" stroke-width="0.5"/><ellipse cx="730" cy="345.1" rx="1.7" ry="1.2" transform="rotate(134 730 345.1)" fill="#f7d4c1" stroke="#e0b49e" stroke-width="0.5"/><ellipse cx="759.6" cy="325.9" rx="2" ry="1.8" transform="rotate(157 759.6 325.9)" fill="#fae3d7" stroke="#e0b49e" stroke-width="0.5"/><ellipse cx="753" cy="351.9" rx="2.7" ry="2.6" transform="rotate(149 753 351.9)" fill="#fae3d7" stroke="#e0b49e" stroke-width="0.5"/><ellipse cx="766.3" cy="344.9" rx="3.6" ry="3.5" transform="rotate(174 766.3 344.9)" fill="#fae3d7" stroke="#e0b49e" stroke-width="0.5"/><ellipse cx="758.8" cy="358.3" rx="3.2" ry="2.3" transform="rotate(20 758.8 358.3)" fill="#f8dbca" stroke="#e0b49e" stroke-width="0.5"/><ellipse cx="765" cy="339.7" rx="1.8" ry="1.8" transform="rotate(154 765 339.7)" fill="#f5cdb9" stroke="#e0b49e" stroke-width="0.5"/><ellipse cx="797.3" cy="346.9" rx="3.7" ry="3.4" transform="rotate(65 797.3 346.9)" fill="#f5cdb9" stroke="#e0b49e" stroke-width="0.5"/><ellipse cx="768.7" cy="385" rx="1.5" ry="1.2" transform="rotate(81 768.7 385)" fill="#fae3d7" stroke="#e0b49e" stroke-width="0.5"/><ellipse cx="730.7" cy="327.9" rx="2.8" ry="2.6" transform="rotate(169 730.7 327.9)" fill="#f8dbca" stroke="#e0b49e" stroke-width="0.5"/><ellipse cx="759.8" cy="350.3" rx="3.1" ry="2.3" transform="rotate(111 759.8 350.3)" fill="#fae3d7" stroke="#e0b49e" stroke-width="0.5"/><ellipse cx="747.5" cy="353.5" rx="3.6" ry="2.3" transform="rotate(11 747.5 353.5)" fill="#f5cdb9" stroke="#e0b49e" stroke-width="0.5"/><ellipse cx="777.5" cy="346.1" rx="3.6" ry="2.5" transform="rotate(73 777.5 346.1)" fill="#f7d4c1" stroke="#e0b49e" stroke-width="0.5"/><ellipse cx="736.8" cy="351" rx="1.6" ry="0.9" transform="rotate(179 736.8 351)" fill="#f8dbca" stroke="#e0b49e" stroke-width="0.5"/><ellipse cx="739.1" cy="352.1" rx="1.7" ry="1.6" transform="rotate(24 739.1 352.1)" fill="#f5cdb9" stroke="#e0b49e" stroke-width="0.5"/><ellipse cx="757.3" cy="348.5" rx="2.4" ry="2.3" transform="rotate(125 757.3 348.5)" fill="#f5cdb9" stroke="#e0b49e" stroke-width="0.5"/><ellipse cx="765.5" cy="334.8" rx="2.9" ry="2.5" transform="rotate(159 765.5 334.8)" fill="#f8dbca" stroke="#e0b49e" stroke-width="0.5"/><ellipse cx="749.5" cy="370.2" rx="3.4" ry="2.8" transform="rotate(169 749.5 370.2)" fill="#fae3d7" stroke="#e0b49e" stroke-width="0.5"/><ellipse cx="776.4" cy="322.7" rx="1.6" ry="1.1" transform="rotate(79 776.4 322.7)" fill="#f7d4c1" stroke="#e0b49e" stroke-width="0.5"/><ellipse cx="761.7" cy="339.3" rx="3.5" ry="2.1" transform="rotate(123 761.7 339.3)" fill="#fae3d7" stroke="#e0b49e" stroke-width="0.5"/><ellipse cx="745.8" cy="352.9" rx="1.6" ry="1.1" transform="rotate(174 745.8 352.9)" fill="#f5cdb9" stroke="#e0b49e" stroke-width="0.5"/><ellipse cx="751.9" cy="358.3" rx="1.7" ry="1.1" transform="rotate(115 751.9 358.3)" fill="#f8dbca" stroke="#e0b49e" stroke-width="0.5"/><ellipse cx="776.5" cy="322.9" rx="1.6" ry="1.1" transform="rotate(177 776.5 322.9)" fill="#f7d4c1" stroke="#e0b49e" stroke-width="0.5"/><ellipse cx="781.8" cy="374.7" rx="1.7" ry="1.5" transform="rotate(37 781.8 374.7)" fill="#f7d4c1" stroke="#e0b49e" stroke-width="0.5"/><ellipse cx="770.6" cy="350.5" rx="3.4" ry="2.2" transform="rotate(139 770.6 350.5)" fill="#f8dbca" stroke="#e0b49e" stroke-width="0.5"/><ellipse cx="766.8" cy="341.5" rx="2.1" ry="2.1" transform="rotate(177 766.8 341.5)" fill="#fae3d7" stroke="#e0b49e" stroke-width="0.5"/><ellipse cx="753.4" cy="350.4" rx="3.3" ry="2" transform="rotate(155 753.4 350.4)" fill="#f7d4c1" stroke="#e0b49e" stroke-width="0.5"/><ellipse cx="754.4" cy="355.4" rx="1.5" ry="1.4" transform="rotate(42 754.4 355.4)" fill="#fae3d7" stroke="#e0b49e" stroke-width="0.5"/><ellipse cx="730.2" cy="332" rx="1.5" ry="1" transform="rotate(22 730.2 332)" fill="#f5cdb9" stroke="#e0b49e" stroke-width="0.5"/><ellipse cx="768.1" cy="350.3" rx="2.7" ry="2.4" transform="rotate(85 768.1 350.3)" fill="#fae3d7" stroke="#e0b49e" stroke-width="0.5"/><ellipse cx="791.8" cy="325.2" rx="2.7" ry="1.6" transform="rotate(90 791.8 325.2)" fill="#f8dbca" stroke="#e0b49e" stroke-width="0.5"/><ellipse cx="771.3" cy="356.6" rx="3.2" ry="3" transform="rotate(118 771.3 356.6)" fill="#fae3d7" stroke="#e0b49e" stroke-width="0.5"/><ellipse cx="769.5" cy="336.4" rx="2.6" ry="2.5" transform="rotate(10 769.5 336.4)" fill="#f5cdb9" stroke="#e0b49e" stroke-width="0.5"/><ellipse cx="775" cy="353" rx="3.4" ry="2.6" transform="rotate(19 775 353)" fill="#f5cdb9" stroke="#e0b49e" stroke-width="0.5"/><ellipse cx="778" cy="355.3" rx="1.7" ry="1" transform="rotate(109 778 355.3)" fill="#f8dbca" stroke="#e0b49e" stroke-width="0.5"/><ellipse cx="766.5" cy="350.8" rx="1.8" ry="1.5" transform="rotate(105 766.5 350.8)" fill="#fae3d7" stroke="#e0b49e" stroke-width="0.5"/><ellipse cx="733.4" cy="346" rx="2.4" ry="1.9" transform="rotate(53 733.4 346)" fill="#f5cdb9" stroke="#e0b49e" stroke-width="0.5"/><ellipse cx="797.5" cy="335.5" rx="1.7" ry="1.5" transform="rotate(153 797.5 335.5)" fill="#f7d4c1" stroke="#e0b49e" stroke-width="0.5"/><ellipse cx="732.9" cy="344.8" rx="2.5" ry="2.4" transform="rotate(74 732.9 344.8)" fill="#f5cdb9" stroke="#e0b49e" stroke-width="0.5"/><ellipse cx="755.8" cy="353.3" rx="2.4" ry="2.1" transform="rotate(56 755.8 353.3)" fill="#fae3d7" stroke="#e0b49e" stroke-width="0.5"/><ellipse cx="752.5" cy="374.2" rx="3" ry="2.2" transform="rotate(27 752.5 374.2)" fill="#f5cdb9" stroke="#e0b49e" stroke-width="0.5"/><ellipse cx="760.4" cy="338.3" rx="1.7" ry="1.5" transform="rotate(16 760.4 338.3)" fill="#f8dbca" stroke="#e0b49e" stroke-width="0.5"/><ellipse cx="770.4" cy="337.5" rx="3.2" ry="2.3" transform="rotate(23 770.4 337.5)" fill="#f8dbca" stroke="#e0b49e" stroke-width="0.5"/><ellipse cx="797.1" cy="335.8" rx="2.8" ry="2.3" transform="rotate(59 797.1 335.8)" fill="#f8dbca" stroke="#e0b49e" stroke-width="0.5"/><ellipse cx="747" cy="321.8" rx="2.4" ry="2.3" transform="rotate(169 747 321.8)" fill="#f5cdb9" stroke="#e0b49e" stroke-width="0.5"/><ellipse cx="780.8" cy="361.6" rx="3.5" ry="3.1" transform="rotate(174 780.8 361.6)" fill="#fae3d7" stroke="#e0b49e" stroke-width="0.5"/><ellipse cx="776.8" cy="355.9" rx="2.3" ry="1.9" transform="rotate(38 776.8 355.9)" fill="#f5cdb9" stroke="#e0b49e" stroke-width="0.5"/><ellipse cx="768.6" cy="334.6" rx="2" ry="1.2" transform="rotate(152 768.6 334.6)" fill="#fae3d7" stroke="#e0b49e" stroke-width="0.5"/><ellipse cx="780.5" cy="361.6" rx="1.8" ry="1.2" transform="rotate(40 780.5 361.6)" fill="#f5cdb9" stroke="#e0b49e" stroke-width="0.5"/><ellipse cx="770.1" cy="331.1" rx="3.4" ry="3.4" transform="rotate(147 770.1 331.1)" fill="#f8dbca" stroke="#e0b49e" stroke-width="0.5"/><ellipse cx="754.7" cy="347" rx="2.9" ry="2.5" transform="rotate(124 754.7 347)" fill="#f8dbca" stroke="#e0b49e" stroke-width="0.5"/><ellipse cx="762.4" cy="353.1" rx="1.9" ry="1.7" transform="rotate(55 762.4 353.1)" fill="#fae3d7" stroke="#e0b49e" stroke-width="0.5"/><ellipse cx="752.3" cy="365" rx="2.3" ry="1.5" transform="rotate(25 752.3 365)" fill="#f5cdb9" stroke="#e0b49e" stroke-width="0.5"/><ellipse cx="781" cy="367.2" rx="1.7" ry="1.5" transform="rotate(174 781 367.2)" fill="#f8dbca" stroke="#e0b49e" stroke-width="0.5"/><ellipse cx="752.6" cy="369.7" rx="3.2" ry="2.1" transform="rotate(75 752.6 369.7)" fill="#fae3d7" stroke="#e0b49e" stroke-width="0.5"/><ellipse cx="778.8" cy="325" rx="1.9" ry="1.3" transform="rotate(58 778.8 325)" fill="#f8dbca" stroke="#e0b49e" stroke-width="0.5"/><ellipse cx="755.4" cy="344.4" rx="3.5" ry="2.2" transform="rotate(135 755.4 344.4)" fill="#f8dbca" stroke="#e0b49e" stroke-width="0.5"/><ellipse cx="780.3" cy="370.5" rx="3.1" ry="2.1" transform="rotate(119 780.3 370.5)" fill="#f5cdb9" stroke="#e0b49e" stroke-width="0.5"/><ellipse cx="769.3" cy="335.4" rx="2.9" ry="2.1" transform="rotate(38 769.3 335.4)" fill="#f8dbca" stroke="#e0b49e" stroke-width="0.5"/><ellipse cx="772.6" cy="354.8" rx="2.3" ry="1.4" transform="rotate(122 772.6 354.8)" fill="#f5cdb9" stroke="#e0b49e" stroke-width="0.5"/><ellipse cx="794.9" cy="334.6" rx="2.7" ry="1.9" transform="rotate(39 794.9 334.6)" fill="#f8dbca" stroke="#e0b49e" stroke-width="0.5"/><ellipse cx="768.6" cy="355.6" rx="1.5" ry="1" transform="rotate(38 768.6 355.6)" fill="#f7d4c1" stroke="#e0b49e" stroke-width="0.5"/><ellipse cx="746.4" cy="323.9" rx="3.3" ry="2.2" transform="rotate(21 746.4 323.9)" fill="#f5cdb9" stroke="#e0b49e" stroke-width="0.5"/><ellipse cx="757.5" cy="340.4" rx="3.2" ry="2" transform="rotate(68 757.5 340.4)" fill="#f7d4c1" stroke="#e0b49e" stroke-width="0.5"/><ellipse cx="771.2" cy="343.4" rx="2.7" ry="2.5" transform="rotate(145 771.2 343.4)" fill="#f8dbca" stroke="#e0b49e" stroke-width="0.5"/><ellipse cx="759.8" cy="354.3" rx="2.4" ry="2.1" transform="rotate(78 759.8 354.3)" fill="#f5cdb9" stroke="#e0b49e" stroke-width="0.5"/><ellipse cx="757.6" cy="336.5" rx="3.6" ry="3.4" transform="rotate(103 757.6 336.5)" fill="#f5cdb9" stroke="#e0b49e" stroke-width="0.5"/><ellipse cx="784.9" cy="326.2" rx="3.1" ry="2.3" transform="rotate(20 784.9 326.2)" fill="#f8dbca" stroke="#e0b49e" stroke-width="0.5"/><ellipse cx="770.4" cy="337.6" rx="3.7" ry="2.3" transform="rotate(170 770.4 337.6)" fill="#f5cdb9" stroke="#e0b49e" stroke-width="0.5"/><ellipse cx="756.7" cy="349.4" rx="3.4" ry="3.3" transform="rotate(15 756.7 349.4)" fill="#f8dbca" stroke="#e0b49e" stroke-width="0.5"/><ellipse cx="782.1" cy="326.2" rx="2.1" ry="1.7" transform="rotate(94 782.1 326.2)" fill="#f5cdb9" stroke="#e0b49e" stroke-width="0.5"/><ellipse cx="748.3" cy="347.9" rx="3.5" ry="3.1" transform="rotate(39 748.3 347.9)" fill="#f7d4c1" stroke="#e0b49e" stroke-width="0.5"/><ellipse cx="743.9" cy="348" rx="1.7" ry="1.4" transform="rotate(95 743.9 348)" fill="#f7d4c1" stroke="#e0b49e" stroke-width="0.5"/><ellipse cx="778.3" cy="327.4" rx="3.6" ry="2.5" transform="rotate(130 778.3 327.4)" fill="#f7d4c1" stroke="#e0b49e" stroke-width="0.5"/><ellipse cx="772.6" cy="377.3" rx="2" ry="1.3" transform="rotate(35 772.6 377.3)" fill="#f7d4c1" stroke="#e0b49e" stroke-width="0.5"/><ellipse cx="778.5" cy="366.3" rx="3.2" ry="2.7" transform="rotate(31 778.5 366.3)" fill="#f5cdb9" stroke="#e0b49e" stroke-width="0.5"/><ellipse cx="755.7" cy="362.4" rx="2.6" ry="2.1" transform="rotate(104 755.7 362.4)" fill="#fae3d7" stroke="#e0b49e" stroke-width="0.5"/><ellipse cx="757" cy="360.6" rx="3.5" ry="2.9" transform="rotate(27 757 360.6)" fill="#f8dbca" stroke="#e0b49e" stroke-width="0.5"/><ellipse cx="755.2" cy="341.6" rx="2.6" ry="2.2" transform="rotate(143 755.2 341.6)" fill="#f8dbca" stroke="#e0b49e" stroke-width="0.5"/><ellipse cx="779.1" cy="327.7" rx="2.3" ry="1.3" transform="rotate(83 779.1 327.7)" fill="#f8dbca" stroke="#e0b49e" stroke-width="0.5"/><ellipse cx="738" cy="328.8" rx="1.6" ry="1.5" transform="rotate(13 738 328.8)" fill="#f8dbca" stroke="#e0b49e" stroke-width="0.5"/><ellipse cx="771.9" cy="335.7" rx="2.9" ry="2.3" transform="rotate(83 771.9 335.7)" fill="#f8dbca" stroke="#e0b49e" stroke-width="0.5"/><ellipse cx="779.3" cy="327.8" rx="2.5" ry="2.3" transform="rotate(117 779.3 327.8)" fill="#fae3d7" stroke="#e0b49e" stroke-width="0.5"/><ellipse cx="761.4" cy="357.1" rx="2.9" ry="2.2" transform="rotate(172 761.4 357.1)" fill="#f5cdb9" stroke="#e0b49e" stroke-width="0.5"/><ellipse cx="735.2" cy="338.2" rx="1.7" ry="1.7" transform="rotate(61 735.2 338.2)" fill="#f8dbca" stroke="#e0b49e" stroke-width="0.5"/><ellipse cx="759.1" cy="342.2" rx="2.7" ry="1.7" transform="rotate(44 759.1 342.2)" fill="#f5cdb9" stroke="#e0b49e" stroke-width="0.5"/><ellipse cx="761.9" cy="376.7" rx="3.8" ry="3" transform="rotate(109 761.9 376.7)" fill="#fae3d7" stroke="#e0b49e" stroke-width="0.5"/><ellipse cx="789.8" cy="331.1" rx="2.4" ry="1.6" transform="rotate(73 789.8 331.1)" fill="#fae3d7" stroke="#e0b49e" stroke-width="0.5"/><ellipse cx="785.8" cy="347.2" rx="3.1" ry="1.8" transform="rotate(113 785.8 347.2)" fill="#fae3d7" stroke="#e0b49e" stroke-width="0.5"/><ellipse cx="769.2" cy="357.1" rx="1.7" ry="1" transform="rotate(122 769.2 357.1)" fill="#fae3d7" stroke="#e0b49e" stroke-width="0.5"/><ellipse cx="790.4" cy="343.3" rx="2.1" ry="1.9" transform="rotate(173 790.4 343.3)" fill="#f7d4c1" stroke="#e0b49e" stroke-width="0.5"/><ellipse cx="747.3" cy="345.9" rx="2.3" ry="1.8" transform="rotate(25 747.3 345.9)" fill="#fae3d7" stroke="#e0b49e" stroke-width="0.5"/><ellipse cx="736.7" cy="332.8" rx="2.2" ry="1.9" transform="rotate(119 736.7 332.8)" fill="#f7d4c1" stroke="#e0b49e" stroke-width="0.5"/><ellipse cx="786.2" cy="346.8" rx="2.9" ry="2.8" transform="rotate(55 786.2 346.8)" fill="#f5cdb9" stroke="#e0b49e" stroke-width="0.5"/><ellipse cx="765.4" cy="340" rx="3" ry="2.1" transform="rotate(23 765.4 340)" fill="#f8dbca" stroke="#e0b49e" stroke-width="0.5"/><ellipse cx="769.2" cy="376.5" rx="3" ry="2.2" transform="rotate(65 769.2 376.5)" fill="#fae3d7" stroke="#e0b49e" stroke-width="0.5"/><ellipse cx="737.5" cy="341.2" rx="2.2" ry="2.2" transform="rotate(61 737.5 341.2)" fill="#f5cdb9" stroke="#e0b49e" stroke-width="0.5"/><ellipse cx="754.2" cy="333.6" rx="1.9" ry="1.9" transform="rotate(27 754.2 333.6)" fill="#fae3d7" stroke="#e0b49e" stroke-width="0.5"/><ellipse cx="787.6" cy="331" rx="3.4" ry="2" transform="rotate(138 787.6 331)" fill="#f8dbca" stroke="#e0b49e" stroke-width="0.5"/><ellipse cx="774.5" cy="362.4" rx="3" ry="2.9" transform="rotate(111 774.5 362.4)" fill="#f5cdb9" stroke="#e0b49e" stroke-width="0.5"/><ellipse cx="738.6" cy="341.2" rx="1.9" ry="1.2" transform="rotate(124 738.6 341.2)" fill="#f7d4c1" stroke="#e0b49e" stroke-width="0.5"/><ellipse cx="762.1" cy="359.8" rx="3.2" ry="1.8" transform="rotate(65 762.1 359.8)" fill="#f7d4c1" stroke="#e0b49e" stroke-width="0.5"/><ellipse cx="753.4" cy="337.5" rx="3.7" ry="3.1" transform="rotate(135 753.4 337.5)" fill="#f5cdb9" stroke="#e0b49e" stroke-width="0.5"/><ellipse cx="774.4" cy="369.7" rx="2" ry="1.3" transform="rotate(173 774.4 369.7)" fill="#f5cdb9" stroke="#e0b49e" stroke-width="0.5"/><ellipse cx="738.1" cy="334.6" rx="3.6" ry="2.3" transform="rotate(122 738.1 334.6)" fill="#f5cdb9" stroke="#e0b49e" stroke-width="0.5"/><ellipse cx="738.3" cy="338" rx="2.6" ry="1.7" transform="rotate(68 738.3 338)" fill="#f5cdb9" stroke="#e0b49e" stroke-width="0.5"/><ellipse cx="764.1" cy="359.8" rx="3.7" ry="3.4" transform="rotate(144 764.1 359.8)" fill="#f7d4c1" stroke="#e0b49e" stroke-width="0.5"/><ellipse cx="759.8" cy="348.3" rx="3.5" ry="2" transform="rotate(86 759.8 348.3)" fill="#fae3d7" stroke="#e0b49e" stroke-width="0.5"/><ellipse cx="764.8" cy="374.4" rx="2.8" ry="1.7" transform="rotate(152 764.8 374.4)" fill="#f8dbca" stroke="#e0b49e" stroke-width="0.5"/><ellipse cx="782.3" cy="345.1" rx="2.2" ry="1.9" transform="rotate(49 782.3 345.1)" fill="#f7d4c1" stroke="#e0b49e" stroke-width="0.5"/><ellipse cx="784.9" cy="344.6" rx="3.4" ry="2" transform="rotate(163 784.9 344.6)" fill="#f5cdb9" stroke="#e0b49e" stroke-width="0.5"/><ellipse cx="774" cy="366.7" rx="3.5" ry="3.4" transform="rotate(74 774 366.7)" fill="#f5cdb9" stroke="#e0b49e" stroke-width="0.5"/><ellipse cx="745.4" cy="329.6" rx="2.7" ry="1.7" transform="rotate(179 745.4 329.6)" fill="#fae3d7" stroke="#e0b49e" stroke-width="0.5"/><ellipse cx="781.1" cy="344.4" rx="2" ry="1.4" transform="rotate(17 781.1 344.4)" fill="#fae3d7" stroke="#e0b49e" stroke-width="0.5"/><ellipse cx="760.5" cy="345.5" rx="3.3" ry="2" transform="rotate(51 760.5 345.5)" fill="#f5cdb9" stroke="#e0b49e" stroke-width="0.5"/><ellipse cx="760.1" cy="367.3" rx="3.1" ry="1.9" transform="rotate(126 760.1 367.3)" fill="#f5cdb9" stroke="#e0b49e" stroke-width="0.5"/><ellipse cx="785.3" cy="332.7" rx="2.9" ry="2.8" transform="rotate(3 785.3 332.7)" fill="#f7d4c1" stroke="#e0b49e" stroke-width="0.5"/><ellipse cx="745.4" cy="342.4" rx="3.4" ry="2.7" transform="rotate(130 745.4 342.4)" fill="#f5cdb9" stroke="#e0b49e" stroke-width="0.5"/><ellipse cx="760.5" cy="367.2" rx="1.8" ry="1.2" transform="rotate(54 760.5 367.2)" fill="#f8dbca" stroke="#e0b49e" stroke-width="0.5"/><ellipse cx="781.2" cy="332.5" rx="2" ry="1.7" transform="rotate(112 781.2 332.5)" fill="#f8dbca" stroke="#e0b49e" stroke-width="0.5"/><ellipse cx="769.3" cy="372.2" rx="1.8" ry="1.7" transform="rotate(107 769.3 372.2)" fill="#f8dbca" stroke="#e0b49e" stroke-width="0.5"/><ellipse cx="769.3" cy="361.9" rx="3" ry="2.4" transform="rotate(129 769.3 361.9)" fill="#fae3d7" stroke="#e0b49e" stroke-width="0.5"/><ellipse cx="744.1" cy="331.5" rx="2.5" ry="2.1" transform="rotate(43 744.1 331.5)" fill="#f5cdb9" stroke="#e0b49e" stroke-width="0.5"/><ellipse cx="768.6" cy="371.5" rx="1.9" ry="1.6" transform="rotate(94 768.6 371.5)" fill="#fae3d7" stroke="#e0b49e" stroke-width="0.5"/><ellipse cx="742.3" cy="337.9" rx="1.7" ry="1.3" transform="rotate(91 742.3 337.9)" fill="#f8dbca" stroke="#e0b49e" stroke-width="0.5"/><ellipse cx="779.9" cy="340.4" rx="2.4" ry="1.8" transform="rotate(114 779.9 340.4)" fill="#fae3d7" stroke="#e0b49e" stroke-width="0.5"/><ellipse cx="743.1" cy="334.2" rx="2.1" ry="1.2" transform="rotate(141 743.1 334.2)" fill="#fae3d7" stroke="#e0b49e" stroke-width="0.5"/><ellipse cx="748.1" cy="338.6" rx="2.1" ry="1.7" transform="rotate(18 748.1 338.6)" fill="#fae3d7" stroke="#e0b49e" stroke-width="0.5"/><ellipse cx="783.4" cy="340.2" rx="1.8" ry="1.3" transform="rotate(60 783.4 340.2)" fill="#f7d4c1" stroke="#e0b49e" stroke-width="0.5"/><ellipse cx="744.4" cy="337.6" rx="3.4" ry="2.9" transform="rotate(176 744.4 337.6)" fill="#f5cdb9" stroke="#e0b49e" stroke-width="0.5"/><path d="M749.5 338.9C748.5 339.8 746.3 340.4 745.1 340C744 339.7 743.1 338 742.5 336.9C742 335.8 741.5 334.3 741.9 333.3C742.2 332.3 743.6 331.2 744.8 330.8C746 330.4 747.8 330.4 748.8 331.1C749.9 331.7 751 333.4 751.1 334.7C751.3 336 750.5 338.1 749.5 338.9Z" fill="#e6b5a4" opacity="0.85"/><path d="M788.8 336C789 336.9 787.2 338.7 786.4 339.5C785.5 340.4 784.8 340.8 783.7 341.1C782.6 341.3 780.4 341.7 779.6 341C778.7 340.3 778.3 337.9 778.5 336.7C778.8 335.4 780.1 333.7 781.1 333.2C782.2 332.7 783.8 333.3 785.1 333.7C786.3 334.2 788.6 335 788.8 336Z" fill="#e6b5a4" opacity="0.85"/><path d="M766.4 372.6C765 372.6 763.5 371.7 762.6 370.7C761.6 369.7 760.7 368 760.8 366.7C760.9 365.4 762.2 363.4 763.3 362.9C764.4 362.4 766.4 363.3 767.4 363.9C768.5 364.4 769 365.2 769.6 366.4C770.2 367.5 771.4 369.7 770.8 370.8C770.3 371.8 767.8 372.6 766.4 372.6Z" fill="#e6b5a4" opacity="0.85"/></g>
<text x="763.7" y="416.4" font-size="12.1" text-anchor="middle" fill="#222">Tumor inhibition</text>
<text x="83.2" y="270.4" font-size="9.2" text-anchor="middle" fill="#333">actived CAF</text>
<text x="12.8" y="349.8" font-size="11" fill="#222">LOX</text>
<text x="96.5" y="442" font-size="9.45" text-anchor="middle" fill="#333">M2 TAM</text>
<text x="200.5" y="359.2" font-size="9.3" text-anchor="middle" fill="#3a2e28">Tumor cell</text>
<text x="436.2" y="355.8" font-size="11" fill="#222">LOX</text>
<text x="520.4" y="444.4" font-size="9.45" text-anchor="middle" fill="#333">M1 TAM</text>
<text x="625" y="362.4" font-size="9.3" text-anchor="middle" class="w" fill="#fff" opacity="0.85">Tumor cell</text>
<text x="554.4" y="244.9" font-size="12.1" fill="#222">BAPN treatment</text>
<path d="M544 238.2C527 238 511 246 505 256.5" fill="none" stroke="url(#gBapn)" stroke-width="1.1"/>
<polygon points="503.2,260 503.5,255.4 507.2,257.5" fill="#c81e1e"/>
<path d="M372 52C358 66 352 90 354 112C356 132 366 146 380 152" fill="none" stroke="#d9a0b0" stroke-width="0.7" stroke-dasharray="4 1.2" opacity="0.75"/>
<path d="M368 60C360 76 358 96 360 112" fill="none" stroke="#d9a0b0" stroke-width="0.7" stroke-dasharray="4 1.2" opacity="0.75"/>
<path d="M353 128C360 142 372 152 388 155" fill="none" stroke="#d9a0b0" stroke-width="0.7" stroke-dasharray="4 1.2" opacity="0.75"/>
<path d="M482 48C494 56 501 70 500 88" fill="none" stroke="#d9a0b0" stroke-width="0.7" stroke-dasharray="4 1.2" opacity="0.75"/>
<path d="M488 54C498 66 504 84 501 104" fill="none" stroke="#d9a0b0" stroke-width="0.7" stroke-dasharray="4 1.2" opacity="0.75"/>
<path d="M503 112C506 128 498 146 480 154C466 159 452 156 445 152" fill="none" stroke="#d9a0b0" stroke-width="0.7" stroke-dasharray="4 1.2" opacity="0.75"/>
<path d="M498 140C488 152 470 158 456 155" fill="none" stroke="#d9a0b0" stroke-width="0.7" stroke-dasharray="4 1.2" opacity="0.75"/>
<path d="M390 152C400 158 414 158 424 154" fill="none" stroke="#d9a0b0" stroke-width="0.7" stroke-dasharray="4 1.2" opacity="0.75"/>
<path d="M497 118C508 130 504 148 488 158C476 165 458 163 448 157" fill="none" stroke="#d9a0b0" stroke-width="0.7" stroke-dasharray="4 1.2" opacity="0.75"/>
<path d="M352 120C350 134 358 148 372 154" fill="none" stroke="#d9a0b0" stroke-width="0.7" stroke-dasharray="4 1.2" opacity="0.75"/>
<path d="M480 140C486 150 484 160 476 166" fill="none" stroke="#d9a0b0" stroke-width="0.7" stroke-dasharray="4 1.2" opacity="0.75"/>
<path d="M375.8 78.3C374 78 372 77.2 370.7 76C369.5 74.8 368.9 72.9 368.3 71.2C367.7 69.5 367.1 67.7 367.3 65.9C367.4 64.2 367.9 61.8 369 60.5C370.2 59.1 372.4 58.3 374.1 57.8C375.9 57.3 377.9 57.1 379.7 57.4C381.5 57.7 383.6 58.3 384.9 59.5C386.3 60.6 387.2 62.7 387.6 64.4C388.1 66.1 388 68 387.8 69.8C387.5 71.6 387.3 73.9 386.2 75.2C385.1 76.5 382.8 76.9 381 77.4C379.3 77.9 377.5 78.5 375.8 78.3Z" fill="#f5b1ae" stroke="#e99a98" stroke-width="0.6"/><circle cx="377.7" cy="67.9" r="3.8" fill="#e17f82"/>
<path d="M394.2 73C395.7 73.7 397.7 74.3 398.5 75.6C399.4 76.9 399.5 79 399.4 80.6C399.4 82.2 398.9 83.9 398.2 85.3C397.5 86.7 396.5 88.4 395.1 89.1C393.8 89.9 391.9 90 390.4 89.9C388.8 89.9 387.2 89.6 385.8 89C384.5 88.3 382.9 87.3 382.1 86C381.3 84.7 381.1 83 381 81.4C380.9 79.8 380.7 77.9 381.4 76.5C382.1 75.1 383.6 73.9 385 73.1C386.4 72.3 388.1 71.8 389.6 71.7C391.1 71.7 392.7 72.4 394.2 73Z" fill="#f5b1ae" stroke="#e99a98" stroke-width="0.6"/><circle cx="390" cy="81" r="3.4" fill="#e17f82"/>
<path d="M414.4 51.2C414.2 49.6 414.5 47.7 415.2 46.2C415.8 44.7 416.9 43.2 418.2 42.2C419.4 41.2 421.2 40.2 422.8 40C424.4 39.8 426.5 40.2 427.9 41C429.3 41.7 430.3 43.3 431.1 44.6C432 46 432.7 47.4 433 48.9C433.2 50.4 433.2 52.3 432.6 53.7C432.1 55.1 430.8 56.4 429.6 57.4C428.3 58.5 426.8 59.8 425.2 60.1C423.6 60.3 421.6 59.7 420.2 59C418.7 58.3 417.4 56.9 416.5 55.6C415.5 54.3 414.6 52.7 414.4 51.2Z" fill="#f5b1ae" stroke="#e99a98" stroke-width="0.6"/><circle cx="424" cy="50" r="3.4" fill="#e17f82"/>
<path d="M490.5 98.8C490.3 100.3 489.3 102 488.2 103C487.1 104 485.4 104.3 484 104.7C482.5 105.2 481 106 479.6 105.8C478.2 105.5 476.9 104.4 475.7 103.4C474.5 102.5 473 101.4 472.4 100.1C471.8 98.7 471.7 96.7 472.1 95.2C472.5 93.8 473.8 92.5 474.8 91.4C475.9 90.3 477 89 478.4 88.5C479.7 88 481.6 88 483 88.3C484.4 88.7 485.8 89.6 486.9 90.6C488 91.5 489 92.8 489.6 94.1C490.2 95.5 490.7 97.3 490.5 98.8Z" fill="#f5b1ae" stroke="#e99a98" stroke-width="0.6"/><circle cx="481.3" cy="97" r="3.1" fill="#e17f82"/>
<path d="M455.5 72.8C453.9 73 452 73.3 450.6 72.7C449.3 72 448.3 70.3 447.4 69C446.6 67.6 445.5 66.1 445.4 64.6C445.3 63.1 446.4 61.5 447 60C447.7 58.5 448.2 56.5 449.4 55.5C450.7 54.6 452.8 54.3 454.4 54.3C456.1 54.4 457.8 55 459.1 55.8C460.4 56.7 461.4 57.9 462.3 59.2C463.3 60.4 464.7 61.9 464.9 63.4C465.2 65 464.8 67.1 464 68.5C463.2 69.9 461.5 71 460 71.7C458.6 72.4 457.1 72.7 455.5 72.8Z" fill="#f5b1ae" stroke="#e99a98" stroke-width="0.6"/><circle cx="455" cy="64" r="3.4" fill="#e17f82"/>
<path d="M429 133.5C429.9 134.7 430.5 136.3 430.7 137.8C430.9 139.3 430.6 140.9 430.1 142.4C429.6 143.9 429 145.7 427.9 146.8C426.8 147.9 424.9 148.6 423.2 148.9C421.6 149.2 419.5 149.1 418 148.4C416.5 147.8 415.2 146.3 414.2 144.9C413.3 143.6 412.6 141.9 412.3 140.3C412.1 138.7 412.3 136.8 412.9 135.3C413.5 133.8 414.9 132.5 416.2 131.5C417.4 130.6 419.1 129.7 420.6 129.6C422.2 129.4 423.9 130.1 425.3 130.8C426.7 131.4 428.1 132.3 429 133.5Z" fill="#f5b1ae" stroke="#e99a98" stroke-width="0.6"/><circle cx="421.9" cy="139" r="3.4" fill="#e17f82"/>
<path d="M406.9 137.9C408.3 138.5 409.8 139.6 410.6 140.8C411.3 142.1 411 143.9 411.1 145.4C411.2 146.9 411.7 148.5 411.2 149.9C410.7 151.3 409.4 152.8 408.2 153.6C407 154.4 405.2 154.7 403.7 154.8C402.2 154.9 400.5 154.6 399.2 154C397.9 153.3 396.8 152 396 150.8C395.2 149.6 394.5 148.1 394.3 146.7C394.1 145.2 394.3 143.5 394.9 142.1C395.5 140.7 396.5 139.1 397.7 138.3C398.9 137.4 400.8 137.1 402.3 137.1C403.8 137 405.5 137.3 406.9 137.9Z" fill="#f5b1ae" stroke="#e99a98" stroke-width="0.6"/><circle cx="403" cy="146" r="3.1" fill="#e17f82"/>
<path d="M366.5 111.2C365.2 111.3 363.7 111.3 362.6 110.8C361.6 110.2 360.7 109.1 360 108C359.3 107 358.5 105.7 358.5 104.5C358.4 103.3 359 101.9 359.6 100.8C360.1 99.7 360.7 98.3 361.7 97.6C362.7 96.8 364.2 96.3 365.5 96.3C366.8 96.2 368.1 96.7 369.3 97.3C370.5 97.8 372.1 98.5 372.7 99.5C373.3 100.6 373 102.2 373.1 103.6C373.2 104.9 373.9 106.5 373.4 107.7C372.9 108.8 371.4 109.7 370.2 110.3C369 110.9 367.7 111.2 366.5 111.2Z" fill="#f5b1ae" stroke="#e99a98" stroke-width="0.6"/><circle cx="366" cy="104" r="2.7" fill="#e17f82"/>
<path d="M376.1 133.4C377.4 133.2 378.8 133.2 380.1 133.6C381.4 133.9 382.8 134.5 383.8 135.4C384.8 136.3 386 137.6 386.4 138.9C386.7 140.2 386.1 141.8 385.7 143.2C385.3 144.6 385.1 146.3 384.1 147.3C383.2 148.3 381.5 148.9 380.1 149.1C378.7 149.4 377.1 149.3 375.7 149C374.4 148.6 372.9 147.8 372 146.9C371 145.9 370.2 144.4 369.9 143C369.6 141.7 369.7 140.1 370 138.7C370.4 137.4 370.9 135.7 372 134.8C373 133.9 374.7 133.6 376.1 133.4Z" fill="#f5b1ae" stroke="#e99a98" stroke-width="0.6"/><circle cx="378" cy="141" r="2.9" fill="#e17f82"/>
<path d="M449 67C449.7 68.5 450.9 70 450.9 71.6C450.8 73.1 449.8 74.8 448.9 76.2C448.1 77.6 447 79.4 445.6 80.1C444.2 80.8 442.1 80.7 440.5 80.5C438.8 80.3 437.1 79.7 435.9 78.8C434.7 77.9 433.8 76.3 433.1 75C432.4 73.6 431.8 72 431.7 70.5C431.6 68.9 431.7 66.9 432.5 65.4C433.3 64 434.9 62.5 436.4 61.9C437.9 61.3 439.9 61.8 441.5 61.9C443.2 62.1 445.2 61.9 446.4 62.7C447.7 63.6 448.3 65.5 449 67Z" fill="#f5b1ae" stroke="#e99a98" stroke-width="0.6"/><circle cx="441" cy="71" r="3.4" fill="#e17f82"/>
<path d="M463.2 132C462.3 133.3 460.8 134.3 459.4 135.2C458 136 456.3 137.1 454.8 137.1C453.2 137.1 451.3 136.1 450 135.2C448.6 134.3 447.5 132.9 446.7 131.5C445.8 130.1 444.8 128.3 444.9 126.8C445 125.2 446.3 123.7 447.2 122.2C448.1 120.8 448.9 119 450.2 118.2C451.6 117.5 453.6 117.6 455.2 117.7C456.9 117.8 458.6 118 460.1 118.7C461.5 119.5 463.1 120.7 463.9 122.1C464.7 123.6 465 125.6 464.9 127.2C464.8 128.9 464.1 130.7 463.2 132Z" fill="#f5b1ae" stroke="#e99a98" stroke-width="0.6"/><circle cx="455" cy="127" r="3.4" fill="#e17f82"/>
<path d="M431.6 116.5C431.8 115.1 432.6 113.8 433.3 112.6C434.1 111.4 434.9 109.8 436.1 109.1C437.3 108.4 439.1 108.3 440.5 108.5C442 108.6 443.6 109 444.8 109.8C445.9 110.6 446.7 112.1 447.3 113.3C448 114.6 448.7 116.1 448.7 117.5C448.7 118.9 448 120.6 447.1 121.7C446.3 122.9 445 124 443.7 124.5C442.5 125 440.9 124.8 439.5 124.7C438.1 124.6 436.7 124.5 435.5 123.8C434.2 123.2 432.7 122.2 432.1 121C431.4 119.7 431.4 117.9 431.6 116.5Z" fill="#f5b1ae" stroke="#e99a98" stroke-width="0.6"/><circle cx="440" cy="117" r="2.9" fill="#e17f82"/>
<path d="M494.8 128.7C494.4 130 493.8 131.7 492.7 132.6C491.7 133.5 490.1 133.7 488.6 134.1C487.1 134.5 485.3 135.4 484 134.9C482.7 134.5 481.8 132.6 480.8 131.4C479.9 130.2 478.6 129.1 478.3 127.7C477.9 126.4 478.4 124.7 478.8 123.2C479.3 121.8 479.8 119.9 480.8 119C481.9 118.1 483.9 118 485.4 117.8C486.9 117.6 488.4 117.4 489.8 117.8C491.1 118.3 492.6 119.2 493.5 120.3C494.4 121.4 495.1 123 495.3 124.4C495.6 125.7 495.3 127.3 494.8 128.7Z" fill="#f5b1ae" stroke="#e99a98" stroke-width="0.6"/><circle cx="487" cy="126" r="3.1" fill="#e17f82"/>
<path d="M465.9 141.2C466.2 142.4 465.7 143.6 465.5 144.8C465.2 146 465.1 147.6 464.3 148.4C463.5 149.3 461.9 149.5 460.7 149.8C459.5 150 458.1 150.5 457 150.1C455.9 149.8 455.1 148.5 454.3 147.6C453.6 146.7 452.9 145.8 452.5 144.7C452.1 143.5 451.5 142.1 451.7 140.9C451.9 139.8 452.9 138.4 453.8 137.7C454.8 137 456.2 136.9 457.4 136.7C458.6 136.4 459.8 136 460.9 136.2C462 136.5 463.2 137.3 464 138.1C464.8 139 465.7 140.1 465.9 141.2Z" fill="#f5b1ae" stroke="#e99a98" stroke-width="0.6"/><circle cx="459" cy="143" r="2.5" fill="#e17f82"/>
<path d="M398.4 59.3C399.2 60.5 400.5 61.8 400.6 63.1C400.8 64.4 399.9 65.9 399.3 67.2C398.7 68.5 398.1 70.1 397.1 70.9C396 71.7 394.3 71.9 392.9 72C391.5 72.1 389.9 72.2 388.6 71.7C387.3 71.2 385.9 70.1 385.2 69C384.5 67.8 384.6 66.2 384.4 64.8C384.3 63.4 383.7 61.7 384.2 60.5C384.7 59.4 386.2 58.5 387.4 57.7C388.6 56.9 389.8 56.1 391.1 55.8C392.5 55.5 394.3 55.5 395.5 56.1C396.7 56.6 397.5 58.2 398.4 59.3Z" fill="#f5b1ae" stroke="#e99a98" stroke-width="0.6"/><circle cx="392" cy="64" r="2.9" fill="#e17f82"/>
<path d="M362.5 108.3C363.1 107.1 364.3 106 365.4 105.2C366.6 104.4 368 103.7 369.4 103.6C370.8 103.5 372.4 104 373.6 104.6C374.8 105.3 376.1 106.3 376.8 107.4C377.5 108.5 377.8 110.1 377.8 111.5C377.8 112.8 377.5 114.2 377 115.4C376.5 116.7 375.8 118.3 374.7 119C373.6 119.7 371.9 119.6 370.5 119.7C369.1 119.8 367.5 120.1 366.3 119.6C365 119.1 363.8 117.8 363.1 116.6C362.4 115.5 362 113.9 361.9 112.6C361.8 111.2 361.9 109.6 362.5 108.3Z" fill="#f5b1ae" stroke="#e99a98" stroke-width="0.6"/><circle cx="370" cy="112" r="2.9" fill="#e17f82"/>
<path d="M400.1 114.3C399.8 115.7 398.8 117.1 397.8 118C396.8 118.9 395.2 119.3 393.9 119.5C392.5 119.7 391.3 119.6 389.9 119.3C388.5 119.1 386.6 119 385.6 118.1C384.7 117.2 384.3 115.4 384.1 114C383.9 112.6 384 111.1 384.3 109.8C384.7 108.4 385.2 107 386.1 105.9C387 104.8 388.5 103.7 389.9 103.4C391.2 103.2 392.8 103.9 394.2 104.3C395.6 104.7 397.4 104.9 398.4 105.9C399.3 106.8 399.5 108.7 399.8 110.1C400.1 111.5 400.4 113 400.1 114.3Z" fill="#f5b1ae" stroke="#e99a98" stroke-width="0.6"/><circle cx="392" cy="112" r="2.9" fill="#e17f82"/>
<path d="M393.3 122.1C393.9 123.3 394.4 124.9 394.2 126.2C394 127.5 393 128.8 392.1 129.8C391.2 130.8 390 131.6 388.8 132.1C387.6 132.6 386.2 132.8 384.9 132.7C383.5 132.6 381.8 132.4 380.8 131.6C379.7 130.8 379.2 129.2 378.6 127.9C378.1 126.6 377.5 125.2 377.6 123.8C377.7 122.4 378.4 120.8 379.3 119.7C380.2 118.6 381.6 117.6 382.9 117.3C384.2 116.9 385.8 117.1 387.1 117.4C388.4 117.7 389.8 118.1 390.8 118.9C391.8 119.7 392.8 120.9 393.3 122.1Z" fill="#f5b1ae" stroke="#e99a98" stroke-width="0.6"/><circle cx="386" cy="125" r="2.9" fill="#e17f82"/>
<path d="M422.6 91.6C423.4 90.4 424.9 89.8 426.1 89C427.4 88.3 428.7 87.3 430.1 87.2C431.5 87.1 433.2 87.7 434.5 88.5C435.8 89.2 437.1 90.4 437.7 91.7C438.4 93 438.6 94.7 438.4 96.1C438.3 97.5 437.6 98.9 436.9 100.1C436.2 101.4 435.4 103 434.2 103.6C433.1 104.2 431.3 103.8 429.9 103.7C428.5 103.7 426.8 103.8 425.7 103.1C424.6 102.5 423.9 101 423.2 99.8C422.5 98.6 421.5 97.2 421.4 95.9C421.3 94.5 421.8 92.7 422.6 91.6Z" fill="#f5b1ae" stroke="#e99a98" stroke-width="0.6"/><circle cx="430" cy="96" r="2.9" fill="#e17f82"/>
<path d="M451 86.9C451 85.3 451.3 83.4 452.2 82.1C453 80.8 454.6 79.5 456.1 78.9C457.6 78.3 459.7 78.1 461.2 78.4C462.7 78.8 464.1 80 465.2 81C466.4 82 467.7 83.1 468.3 84.5C469 85.8 469.2 87.5 469.1 89.1C469.1 90.7 469 92.8 468.1 94.1C467.2 95.4 465.3 96.4 463.8 96.9C462.2 97.5 460.4 97.6 458.8 97.4C457.2 97.2 455.3 96.7 454.2 95.7C453 94.7 452.4 92.9 451.9 91.5C451.3 90 450.9 88.4 451 86.9Z" fill="#f5b1ae" stroke="#e99a98" stroke-width="0.6"/><circle cx="460" cy="88" r="3.4" fill="#e17f82"/>
<path d="M481.6 79.9C480.4 79.3 479.5 77.8 478.8 76.6C478 75.4 477.3 74.2 477.1 72.9C476.9 71.6 477.1 70.1 477.6 68.8C478 67.4 478.7 65.7 479.8 64.9C480.9 64.1 482.7 64.1 484.1 64C485.5 63.9 487.2 63.7 488.3 64.3C489.5 64.9 490.5 66.3 491.2 67.4C492 68.5 492.5 69.8 492.8 71.1C493 72.4 493.3 74.1 492.8 75.4C492.3 76.7 491.1 77.8 490 78.7C488.8 79.5 487.4 80.3 486 80.5C484.6 80.7 482.8 80.6 481.6 79.9Z" fill="#f5b1ae" stroke="#e99a98" stroke-width="0.6"/><circle cx="485" cy="72" r="2.9" fill="#e17f82"/>
<path d="M440.1 52.3C439.2 51.2 438.4 49.7 438.2 48.2C438.1 46.8 438.5 45 439.3 43.8C440 42.6 441.6 41.9 442.8 41.2C444.1 40.4 445.4 39.4 446.8 39.3C448.2 39.1 449.9 39.5 451.2 40.2C452.5 40.9 453.8 42.2 454.4 43.4C455 44.7 454.6 46.3 454.6 47.8C454.7 49.3 455.4 51.1 454.8 52.2C454.2 53.4 452.4 54 451.2 54.8C449.9 55.5 448.6 56.6 447.2 56.7C445.9 56.7 444.5 55.6 443.3 54.9C442.1 54.2 440.9 53.4 440.1 52.3Z" fill="#f5b1ae" stroke="#e99a98" stroke-width="0.6"/><circle cx="447" cy="48" r="2.9" fill="#e17f82"/>
<path d="M466.9 110.3C466.8 109.1 466.9 107.7 467.5 106.6C468 105.5 469 104.3 470 103.7C471.1 103.1 472.5 103.1 473.7 103.1C474.9 103.1 476.3 103.2 477.3 103.7C478.4 104.2 479.4 105.1 480.1 106.1C480.8 107.1 481.2 108.5 481.3 109.7C481.4 110.9 481.3 112.4 480.7 113.5C480.2 114.6 479 115.6 477.9 116.2C476.9 116.9 475.5 117.5 474.3 117.5C473.1 117.5 471.6 117.1 470.6 116.4C469.6 115.8 468.9 114.7 468.2 113.6C467.6 112.6 467.1 111.5 466.9 110.3Z" fill="#f5b1ae" stroke="#e99a98" stroke-width="0.6"/><circle cx="474" cy="110" r="2.5" fill="#e17f82"/>
<path d="M428.2 142.8C428 141.4 427.4 139.7 427.9 138.4C428.3 137 429.6 135.7 430.8 134.9C432.1 134 433.7 133.6 435.1 133.5C436.6 133.3 438.4 133.4 439.6 134.1C440.7 134.7 441.4 136.4 442.2 137.5C443 138.7 444.4 139.9 444.6 141.1C444.7 142.4 443.7 143.9 443.1 145.2C442.4 146.4 441.8 147.7 440.7 148.6C439.7 149.4 438.2 150.1 436.8 150.2C435.5 150.3 434 149.8 432.8 149.2C431.5 148.7 430 147.9 429.3 146.9C428.5 145.8 428.4 144.2 428.2 142.8Z" fill="#f5b1ae" stroke="#e99a98" stroke-width="0.6"/><circle cx="436" cy="142" r="2.9" fill="#e17f82"/>
<path d="M404.9 126.6C406.1 125.9 407.7 125.6 409.1 125.6C410.5 125.7 412 126.2 413.2 126.9C414.5 127.6 416 128.6 416.6 129.8C417.2 131 416.9 132.7 416.8 134.1C416.6 135.5 416.5 136.9 415.8 138.1C415.2 139.3 414.2 140.7 413.1 141.3C411.9 141.9 410.3 141.8 408.9 141.8C407.5 141.8 405.8 141.9 404.7 141.2C403.5 140.6 402.7 139.2 401.9 137.9C401.2 136.7 400.3 135.2 400.3 133.9C400.3 132.5 401.4 131.1 402.2 129.9C402.9 128.7 403.7 127.4 404.9 126.6Z" fill="#f5b1ae" stroke="#e99a98" stroke-width="0.6"/><circle cx="409" cy="134" r="2.9" fill="#e17f82"/>
<path d="M418.1 108.5C418.8 107.4 419.8 106.4 420.9 105.6C422 104.9 423.3 104.1 424.6 104C425.9 104 427.4 104.6 428.5 105.3C429.5 105.9 430.3 107 431.1 108.1C431.8 109.1 432.8 110.4 432.8 111.6C432.9 112.8 431.9 114 431.3 115.2C430.8 116.5 430.5 118.2 429.5 119C428.5 119.7 426.7 120 425.4 119.9C424.1 119.8 422.8 119 421.8 118.3C420.7 117.7 419.7 116.9 418.9 116C418 115 416.9 113.7 416.8 112.4C416.6 111.2 417.5 109.6 418.1 108.5Z" fill="#f5b1ae" stroke="#e99a98" stroke-width="0.6"/><circle cx="425" cy="112" r="2.7" fill="#e17f82"/>
<path d="M402.3 99.1C401.8 100.2 401.2 101.7 400.3 102.3C399.3 102.9 397.7 102.8 396.5 102.8C395.3 102.7 394.1 102.6 393 102.2C391.9 101.8 390.6 101.1 389.8 100.2C389.1 99.2 388.5 97.7 388.5 96.5C388.5 95.3 389.1 94 389.6 92.9C390.2 91.7 390.8 90.4 391.8 89.7C392.7 89 394.3 88.6 395.5 88.6C396.7 88.5 398.1 89 399.1 89.6C400.1 90.2 400.9 91.3 401.5 92.3C402.2 93.3 402.9 94.4 403 95.5C403.1 96.6 402.7 97.9 402.3 99.1Z" fill="#f5b1ae" stroke="#e99a98" stroke-width="0.6"/><circle cx="396" cy="96" r="2.5" fill="#e17f82"/>
<path d="M468.4 126.6C467.3 127 465.9 127.4 464.8 127.2C463.7 127 462.7 126 461.7 125.2C460.7 124.4 459.4 123.7 459 122.6C458.6 121.6 459 120 459.3 118.9C459.6 117.7 460.1 116.6 460.9 115.7C461.6 114.8 462.5 113.8 463.6 113.4C464.6 113 466 113 467.2 113.2C468.3 113.4 469.7 113.7 470.7 114.4C471.7 115 472.6 116.2 473.1 117.4C473.6 118.5 473.7 120.1 473.5 121.3C473.3 122.5 472.5 123.8 471.6 124.7C470.8 125.5 469.6 126.2 468.4 126.6Z" fill="#f5b1ae" stroke="#e99a98" stroke-width="0.6"/><circle cx="466" cy="120" r="2.5" fill="#e17f82"/>
<path d="M467.2 68.4C465.4 69.7 463.3 71.1 461.2 71.5C459.1 71.8 456.5 71.3 454.5 70.5C452.5 69.6 450.3 68.1 449.1 66.4C447.9 64.7 447.4 62.2 447.1 60.1C446.8 57.9 446.5 55.3 447.2 53.3C448 51.4 450 49.4 451.7 48.3C453.5 47.2 455.9 47 457.9 46.7C460 46.4 462.5 46 464.3 46.8C466.1 47.5 467.4 49.6 468.8 51.2C470.2 52.9 472.4 54.6 472.9 56.6C473.4 58.7 473 61.6 472 63.6C471.1 65.5 469 67 467.2 68.4Z" fill="#f3a4a2" stroke="#e48686" stroke-width="0.6"/><circle cx="459.5" cy="58.4" r="4.8" fill="#dc6e72"/>
<path d="M464.3 68C465 66.3 465.9 64.1 467.4 63C468.9 61.9 471.3 61.3 473.2 61.4C475.1 61.5 477.1 62.6 478.7 63.6C480.3 64.6 482.2 65.8 483 67.3C483.9 68.9 483.9 71.1 483.8 72.9C483.7 74.7 483.4 76.6 482.5 78.2C481.7 79.7 480.3 81.1 478.8 82.2C477.3 83.2 475.3 84.4 473.6 84.4C471.8 84.4 470 83.1 468.3 82.2C466.6 81.3 464.2 80.6 463.3 79.1C462.5 77.6 463.1 75.1 463.2 73.3C463.4 71.4 463.6 69.8 464.3 68Z" fill="#f3a4a2" stroke="#e48686" stroke-width="0.6"/><circle cx="473.4" cy="73.1" r="4.2" fill="#dc6e72"/>
<path d="M440.7 87.5C439.2 88.4 437.3 88.5 435.5 88.7C433.8 89 431.8 89.4 430.2 88.8C428.6 88.3 426.9 86.7 426 85.3C425 83.8 424.5 81.9 424.3 80.2C424.1 78.4 424.1 76.4 424.7 74.8C425.4 73.2 426.7 71.5 428.2 70.6C429.6 69.7 431.6 69.7 433.3 69.5C435 69.3 436.9 68.9 438.5 69.4C440.1 70 441.8 71.3 442.9 72.7C443.9 74.1 444.4 76 444.7 77.8C445 79.6 445.2 81.7 444.5 83.3C443.8 85 442.2 86.6 440.7 87.5Z" fill="#f3a4a2" stroke="#e48686" stroke-width="0.6"/><circle cx="434.4" cy="79" r="4" fill="#dc6e72"/>
<path d="M482.3 93.9C482.7 95.5 482.6 97.5 482.1 99C481.5 100.6 480.3 102.3 478.9 103.2C477.6 104.1 475.6 104.4 474 104.4C472.3 104.5 470.8 104.2 469.2 103.6C467.7 103.1 465.8 102.5 464.8 101.3C463.9 100.1 463.8 98.1 463.6 96.4C463.4 94.8 463.4 93.1 463.8 91.6C464.3 90 465.1 88.1 466.3 87C467.6 85.9 469.7 85 471.3 84.9C472.9 84.9 474.7 85.9 476.2 86.7C477.6 87.5 478.9 88.4 479.9 89.6C480.9 90.8 482 92.3 482.3 93.9Z" fill="#f3a4a2" stroke="#e48686" stroke-width="0.6"/><circle cx="472.7" cy="95.2" r="3.7" fill="#dc6e72"/>
<path d="M478.6 131.3C479.2 133 479 135.5 478.3 137.2C477.7 138.9 476.1 140.4 474.7 141.6C473.4 142.9 471.8 143.9 470.1 144.5C468.4 145.1 466.2 145.5 464.4 145.1C462.6 144.7 460.4 143.6 459.2 142.2C458.1 140.9 457.9 138.5 457.6 136.7C457.3 134.9 457.2 133.3 457.4 131.5C457.7 129.6 458 127.1 459.2 125.9C460.5 124.7 463 124.7 464.8 124.3C466.7 123.9 468.7 123 470.4 123.4C472.1 123.8 473.6 125.4 475 126.7C476.3 128.1 478 129.5 478.6 131.3Z" fill="#f3a4a2" stroke="#e48686" stroke-width="0.6"/><circle cx="467.4" cy="134.2" r="4.2" fill="#dc6e72"/>
<path d="M430.2 140.4C431.4 141.6 432.8 143.1 433.4 144.8C434 146.5 434.2 148.8 433.6 150.5C433 152.1 431.2 153.4 429.9 154.6C428.5 155.9 427.1 157.5 425.5 157.9C423.9 158.3 421.7 157.7 420.1 157.1C418.5 156.5 417 155.4 415.9 154.2C414.7 153 413.7 151.5 413.1 149.9C412.6 148.2 412 146 412.5 144.4C413 142.9 414.8 141.6 416.1 140.4C417.4 139.2 418.7 137.6 420.3 137.1C421.9 136.7 424 137.1 425.7 137.7C427.3 138.2 428.9 139.2 430.2 140.4Z" fill="#f3a4a2" stroke="#e48686" stroke-width="0.6"/><circle cx="422.9" cy="147.4" r="4" fill="#dc6e72"/>
<path d="M369.5 116C371.1 115.8 372.9 117 374.5 117.4C376.2 117.9 378.3 117.8 379.6 118.8C380.8 119.8 381.9 121.9 382.1 123.6C382.3 125.2 381.3 126.9 380.8 128.6C380.4 130.2 380.3 132.2 379.3 133.4C378.2 134.7 376.2 135.8 374.6 136C373 136.3 371.3 135.5 369.6 135C367.9 134.6 365.7 134.5 364.6 133.4C363.4 132.3 363.1 130.1 362.8 128.5C362.5 126.8 362.4 125.1 362.8 123.5C363.1 121.9 364 120.2 365.1 118.9C366.2 117.7 368 116.3 369.5 116Z" fill="#f3a4a2" stroke="#e48686" stroke-width="0.6"/><circle cx="372.1" cy="126.1" r="3.7" fill="#dc6e72"/>
<path d="M415 134.4C413.3 134.5 411.2 134.5 409.8 133.7C408.3 132.9 407 131.2 406.2 129.7C405.5 128.2 405 126.3 405.1 124.7C405.1 123.1 405.7 121.3 406.5 120C407.3 118.6 408.7 117.6 410 116.6C411.4 115.6 412.9 114.1 414.6 113.9C416.2 113.8 418.3 114.6 419.7 115.6C421.1 116.5 422 118.2 422.8 119.6C423.7 121.1 424.6 122.7 424.7 124.3C424.9 125.9 424.4 127.8 423.7 129.3C422.9 130.9 421.6 132.6 420.2 133.4C418.8 134.2 416.8 134.3 415 134.4Z" fill="#f3a4a2" stroke="#e48686" stroke-width="0.6"/><circle cx="414.8" cy="124.5" r="3.7" fill="#dc6e72"/>
<path d="M394.9 155.6C393.7 156.7 392 157.7 390.5 158C389 158.3 387.1 157.7 385.7 157.1C384.2 156.6 382.8 155.7 381.8 154.6C380.8 153.4 380.1 151.9 379.8 150.5C379.5 149 379.7 147.4 380.1 146C380.5 144.6 381.3 143.1 382.3 142.1C383.3 141.1 384.9 140.4 386.3 140C387.8 139.5 389.7 138.8 391.1 139.2C392.5 139.6 393.7 141.3 394.7 142.5C395.6 143.8 396.3 145.1 396.8 146.5C397.3 148 398 149.9 397.7 151.4C397.4 152.9 396.1 154.5 394.9 155.6Z" fill="#f3a4a2" stroke="#e48686" stroke-width="0.6"/><circle cx="388.3" cy="148.5" r="3.5" fill="#dc6e72"/>
<path d="M382.7 85.5C383.4 87.1 384.3 88.9 384.1 90.5C383.9 92.1 382.5 93.6 381.5 94.9C380.4 96.2 379.3 97.7 377.8 98.3C376.4 99 374.5 98.9 372.9 98.8C371.3 98.6 369.3 98.3 368.1 97.3C366.9 96.4 366.2 94.6 365.6 93.1C364.9 91.6 364.2 89.9 364.3 88.4C364.4 86.8 365.3 85 366.2 83.8C367.2 82.6 368.8 81.9 370.2 81.1C371.7 80.3 373.4 79.2 375 79.2C376.6 79.2 378.8 79.9 380 81C381.3 82 382 83.9 382.7 85.5Z" fill="#f3a4a2" stroke="#e48686" stroke-width="0.6"/><circle cx="373.9" cy="89.4" r="3.7" fill="#dc6e72"/>
<path d="M481.9 111.3C482 110 481.8 108.4 482.5 107.4C483.1 106.3 484.6 105.5 485.8 105.1C487 104.6 488.4 104.4 489.7 104.4C491 104.5 492.7 104.7 493.6 105.5C494.6 106.2 494.8 107.9 495.3 109.1C495.9 110.3 496.9 111.5 496.8 112.7C496.7 113.9 495.6 115.2 494.8 116.1C494 117.1 493.1 118 492 118.5C490.9 119 489.6 119.3 488.3 119.2C487.1 119.2 485.6 119 484.5 118.3C483.4 117.7 482.2 116.5 481.7 115.3C481.3 114.2 481.8 112.7 481.9 111.3Z" fill="#f3a4a2" stroke="#e48686" stroke-width="0.6"/><circle cx="489" cy="112" r="2.9" fill="#dc6e72"/>
<g mask="url(#mFadeL)"><path d="M408.8 86.5C405 94 400.5 100 398.4 106C396.6 112 395.8 120 395.4 128L395.2 141" fill="none" stroke="#d2565c" stroke-width="13.6" stroke-linecap="round" stroke-linejoin="round"/></g>
<g mask="url(#mFadeD)"><path d="M448.8 115C450.5 122 451 130 451.5 139" fill="none" stroke="#d2565c" stroke-width="13" stroke-linecap="round" stroke-linejoin="round"/></g>
<g mask="url(#mFadeR)"><path d="M448 116C462 119.2 480 119.3 496 117.5" fill="none" stroke="#d2565c" stroke-width="13.6" stroke-linecap="round" stroke-linejoin="round"/></g>
<path d="M350 30L350 35C352.7 35.1 361.2 35 366 35.6C370.8 36.2 376.1 37.6 379 38.8C381.9 40 381.6 40.9 383.4 42.6C385.2 44.3 387.9 46.9 389.7 49C391.5 51.1 392.8 53.2 394.2 55.3C395.6 57.4 396.9 59.5 398 61.6C399.1 63.7 400.2 65.8 401.1 67.9C402 70 402.9 72.1 403.6 74.2C404.3 76.3 404.7 78.5 405.3 80.5C405.9 82.5 406.5 84.3 407.5 86C408.5 87.7 409.8 89 411.5 90.8C413.2 92.6 415.4 94.5 417.7 96.8C420 99.1 422.8 102.3 425.3 104.8C427.8 107.3 430.1 109.5 432.9 111.6C435.6 113.7 439.1 116.1 441.8 117.5C444.5 118.9 447.8 119.6 449 120L451.5 112.2C450.6 111.7 448.4 110.7 446 109C443.6 107.3 439.9 104.6 437 102C434.1 99.4 431.2 96.6 428.5 93.5C425.8 90.4 423.1 86.7 421 83.5C418.9 80.3 417.5 76.8 416 74.2C414.5 71.6 413.3 70 412 67.9C410.7 65.8 409.3 63.7 408.1 61.6C406.9 59.5 405.9 57.4 404.9 55.3C403.8 53.2 402.9 51.1 401.8 49C400.8 46.9 399.5 44.3 398.6 42.6C397.8 40.9 397.2 40.1 396.7 38.8C396.2 37.5 395.7 35.6 395.5 35L395.5 30Z" fill="#d2565c" stroke="#d2565c" stroke-width="7.6" stroke-linejoin="round"/>
<rect x="306.5" y="22" width="203.5" height="17" fill="#d2565c"/>
<g mask="url(#mFadeL)"><path d="M408.8 86.5C405 94 400.5 100 398.4 106C396.6 112 395.8 120 395.4 128L395.2 141" fill="none" stroke="#f6a4a0" stroke-width="10.4" stroke-linecap="round" stroke-linejoin="round"/></g>
<g mask="url(#mFadeD)"><path d="M448.8 115C450.5 122 451 130 451.5 139" fill="none" stroke="#f6a4a0" stroke-width="9.8" stroke-linecap="round" stroke-linejoin="round"/></g>
<g mask="url(#mFadeR)"><path d="M448 116C462 119.2 480 119.3 496 117.5" fill="none" stroke="#f6a4a0" stroke-width="10.4" stroke-linecap="round" stroke-linejoin="round"/></g>
<path d="M350 30L350 35C352.7 35.1 361.2 35 366 35.6C370.8 36.2 376.1 37.6 379 38.8C381.9 40 381.6 40.9 383.4 42.6C385.2 44.3 387.9 46.9 389.7 49C391.5 51.1 392.8 53.2 394.2 55.3C395.6 57.4 396.9 59.5 398 61.6C399.1 63.7 400.2 65.8 401.1 67.9C402 70 402.9 72.1 403.6 74.2C404.3 76.3 404.7 78.5 405.3 80.5C405.9 82.5 406.5 84.3 407.5 86C408.5 87.7 409.8 89 411.5 90.8C413.2 92.6 415.4 94.5 417.7 96.8C420 99.1 422.8 102.3 425.3 104.8C427.8 107.3 430.1 109.5 432.9 111.6C435.6 113.7 439.1 116.1 441.8 117.5C444.5 118.9 447.8 119.6 449 120L451.5 112.2C450.6 111.7 448.4 110.7 446 109C443.6 107.3 439.9 104.6 437 102C434.1 99.4 431.2 96.6 428.5 93.5C425.8 90.4 423.1 86.7 421 83.5C418.9 80.3 417.5 76.8 416 74.2C414.5 71.6 413.3 70 412 67.9C410.7 65.8 409.3 63.7 408.1 61.6C406.9 59.5 405.9 57.4 404.9 55.3C403.8 53.2 402.9 51.1 401.8 49C400.8 46.9 399.5 44.3 398.6 42.6C397.8 40.9 397.2 40.1 396.7 38.8C396.2 37.5 395.7 35.6 395.5 35L395.5 30Z" fill="#f6a4a0" stroke="#f6a4a0" stroke-width="4.4" stroke-linejoin="round"/>
<rect x="308" y="23.7" width="202" height="13.6" fill="#f6a4a0"/>
<g mask="url(#mFadeL)"><path d="M408.8 86.5C405 94 400.5 100 398.4 106C396.6 112 395.8 120 395.4 128L395.2 141" fill="none" stroke="#8b1f1f" stroke-width="6" stroke-linecap="round" stroke-linejoin="round"/></g>
<g mask="url(#mFadeD)"><path d="M448.8 115C450.5 122 451 130 451.5 139" fill="none" stroke="#8b1f1f" stroke-width="5.4" stroke-linecap="round" stroke-linejoin="round"/></g>
<g mask="url(#mFadeR)"><path d="M448 116C462 119.2 480 119.3 496 117.5" fill="none" stroke="#8b1f1f" stroke-width="6" stroke-linecap="round" stroke-linejoin="round"/></g>
<path d="M350 30L350 35C352.7 35.1 361.2 35 366 35.6C370.8 36.2 376.1 37.6 379 38.8C381.9 40 381.6 40.9 383.4 42.6C385.2 44.3 387.9 46.9 389.7 49C391.5 51.1 392.8 53.2 394.2 55.3C395.6 57.4 396.9 59.5 398 61.6C399.1 63.7 400.2 65.8 401.1 67.9C402 70 402.9 72.1 403.6 74.2C404.3 76.3 404.7 78.5 405.3 80.5C405.9 82.5 406.5 84.3 407.5 86C408.5 87.7 409.8 89 411.5 90.8C413.2 92.6 415.4 94.5 417.7 96.8C420 99.1 422.8 102.3 425.3 104.8C427.8 107.3 430.1 109.5 432.9 111.6C435.6 113.7 439.1 116.1 441.8 117.5C444.5 118.9 447.8 119.6 449 120L451.5 112.2C450.6 111.7 448.4 110.7 446 109C443.6 107.3 439.9 104.6 437 102C434.1 99.4 431.2 96.6 428.5 93.5C425.8 90.4 423.1 86.7 421 83.5C418.9 80.3 417.5 76.8 416 74.2C414.5 71.6 413.3 70 412 67.9C410.7 65.8 409.3 63.7 408.1 61.6C406.9 59.5 405.9 57.4 404.9 55.3C403.8 53.2 402.9 51.1 401.8 49C400.8 46.9 399.5 44.3 398.6 42.6C397.8 40.9 397.2 40.1 396.7 38.8C396.2 37.5 395.7 35.6 395.5 35L395.5 30Z" fill="#8b1f1f"/>
<rect x="307" y="26" width="203" height="9" fill="#8b1f1f"/>
<ellipse cx="335.4" cy="30.2" rx="4.4" ry="2.3" transform="rotate(40 335.4 30.2)" fill="#ee7c84" stroke="#c94a56" stroke-width="0.6"/><ellipse cx="335.4" cy="30.2" rx="1.848" ry="0.9659999999999999" transform="rotate(40 335.4 30.2)" fill="#d95a66"/>
<ellipse cx="386.6" cy="32.5" rx="3.6" ry="3.0" transform="rotate(-20 386.6 32.5)" fill="#ee7c84" stroke="#c94a56" stroke-width="0.6"/><ellipse cx="386.6" cy="32.5" rx="1.512" ry="1.26" transform="rotate(-20 386.6 32.5)" fill="#d95a66"/>
<ellipse cx="439" cy="31" rx="3.6" ry="3.0" transform="rotate(-20 439 31)" fill="#ee7c84" stroke="#c94a56" stroke-width="0.6"/><ellipse cx="439" cy="31" rx="1.512" ry="1.26" transform="rotate(-20 439 31)" fill="#d95a66"/>
<ellipse cx="480.8" cy="30.4" rx="4.4" ry="2.3" transform="rotate(-30 480.8 30.4)" fill="#ee7c84" stroke="#c94a56" stroke-width="0.6"/><ellipse cx="480.8" cy="30.4" rx="1.848" ry="0.9659999999999999" transform="rotate(-30 480.8 30.4)" fill="#d95a66"/>
<ellipse cx="408.8" cy="81" rx="3.6" ry="1.8" transform="rotate(-35 408.8 81)" fill="#ee7c84" stroke="#c94a56" stroke-width="0.6"/><ellipse cx="408.8" cy="81" rx="1.512" ry="0.756" transform="rotate(-35 408.8 81)" fill="#d95a66"/>
<ellipse cx="400.2" cy="104.5" rx="2.4" ry="1.4" transform="rotate(-60 400.2 104.5)" fill="#ee7c84" stroke="#c94a56" stroke-width="0.6"/>
<ellipse cx="435.5" cy="106" rx="2.8" ry="1.5" transform="rotate(35 435.5 106)" fill="#ee7c84" stroke="#c94a56" stroke-width="0.6"/>
<ellipse cx="396" cy="122" rx="2" ry="1.2" transform="rotate(-80 396 122)" fill="#ee7c84" stroke="#c94a56" stroke-width="0.6"/>
<path d="M392.6 69.8Q393.2 70.2 394.9 71.2Q393 72 392.4 72.2Q392.9 72.7 394.2 74.1Q392.3 74.4 391 75.3Q391.4 76.1 392.3 78.2Q390.1 77.4 389.7 76.9Q389.8 77.7 390.2 80Q388.3 78.7 387.6 78.2Q387.6 79 387.4 81.5Q385.8 79.6 385.1 78.9Q384.8 79.5 383.8 81.1Q382.9 79.5 382.7 78.9Q382.2 79.5 380.8 81Q380.4 78.9 380.4 78.2Q379.8 78.5 378.1 79.4Q378.3 77.5 378.2 76.7Q377.5 76.8 375.7 77.2Q376.4 75.4 376.9 75.3Q376.2 75.3 374.3 75.2Q375.4 73.6 375.8 73.1Q375.2 72.9 373.4 72.3Q374.9 71.1 375.4 70.1Q374.7 69.6 372.9 68.3Q375.1 67.8 375.6 68.6Q375 68.1 373.5 66.5Q375.7 66.3 376.5 66.2Q376.1 65.6 375 63.6Q377.2 64.1 378.3 64Q378.1 63.2 377.8 61.1Q379.7 62.2 380.8 62.4Q380.9 61.6 381.2 59.3Q382.7 61.2 383 61.8Q383.4 61.2 384.3 59.5Q385.2 61.3 384.7 61.8Q385.1 61.2 386.5 59.4Q386.9 61.6 387.6 62.6Q388.3 62.1 390.3 60.7Q389.9 63.1 390 64.2Q390.7 64.1 392.5 63.9Q391.8 65.6 391.2 65.6Q392 65.6 394.3 65.5Q392.8 67.3 392.2 67.9Q393.1 68 395.6 68.6Q393.4 69.9 392.6 69.8Z" fill="#b4b8f0" stroke="#a0a4e4" stroke-width="0.5" stroke-linejoin="round"/><circle cx="384" cy="70.4" r="5.8" fill="#a4a6ea"/><circle cx="384" cy="70.4" r="4" fill="#9690d8"/>
<path d="M462.9 74.8Q463.6 75.3 465.7 76.7Q463.3 77.3 462.6 76.9Q463 77.5 464.3 79.1Q462.2 79.3 461.3 79.7Q461.7 80.6 463 83.1Q460.3 82.1 459.8 81.5Q460 82.3 460.5 85Q458.3 83.5 458 82.7Q458 83.5 457.8 85.8Q456.1 84.2 455.3 83.7Q455 84.4 454.1 86.6Q453 84.5 452 83.7Q451.4 84.4 449.7 86.5Q449.5 83.8 449.6 83Q448.8 83.5 446.6 85.1Q447.1 82.4 447.5 81.7Q446.8 81.9 444.9 82.3Q445.5 80.4 445.6 79.5Q444.7 79.6 442.2 79.7Q443.9 77.7 444.4 76.8Q443.8 76.5 442 75.7Q443.5 74.5 444.1 74.8Q443.5 74.4 441.7 73.2Q443.7 72.4 444.4 71.8Q443.8 71.1 441.9 69.2Q444.6 69.3 445.4 69.6Q445.2 69 444.5 67.2Q446.4 67.4 447.8 66.9Q447.7 66 447.3 63.3Q449.4 65 450 65.7Q450.2 65 450.7 63.2Q452.1 64.5 451.8 65.1Q452.1 64.5 453.1 62.7Q454.1 64.4 455.5 65.2Q456 64.7 457.5 63.4Q457.9 65.4 456.9 65.6Q457.5 65.2 459.3 64.1Q459.3 66.2 460 67.6Q460.7 67.4 462.7 67.1Q461.9 69 461.8 69.9Q462.5 70 464.7 70.3Q463.2 71.9 462.6 72Q463.3 72.2 465.2 73Q463.5 74.2 462.9 74.8Z" fill="#b4b8f0" stroke="#a0a4e4" stroke-width="0.5" stroke-linejoin="round"/><circle cx="453.5" cy="74.4" r="6.3" fill="#a4a6ea"/><circle cx="453.5" cy="74.4" r="4.4" fill="#9690d8"/>
<path d="M422.7 108.9Q423.4 109.2 425.5 110.3Q423.3 111 422.3 111.8Q422.7 112.3 423.8 113.8Q422 113.9 421.2 114.1Q421.5 114.8 422.3 116.8Q420.3 116.1 419.5 115.9Q419.6 116.6 419.8 118.7Q418.1 117.5 417.6 117Q417.5 117.7 417.2 120Q415.8 118.2 415.9 117.5Q415.6 118 414.8 119.5Q413.8 118.1 412.8 117.4Q412.4 117.8 411 118.9Q410.7 117.2 411 116.8Q410.4 117.3 408.4 118.8Q408.9 116.4 409.3 115.7Q408.7 115.9 406.9 116.3Q407.5 114.6 407.7 114Q407.1 113.9 405.3 113.8Q406.3 112.4 406.5 111.4Q405.9 111.2 404.2 110.5Q405.8 109.4 406.3 110Q405.7 109.6 403.8 108.6Q405.8 107.9 406.5 107.4Q406.2 106.9 405.1 105.5Q406.8 105.3 407.3 105.5Q406.8 104.8 405.6 102.9Q407.9 103.4 409 103.3Q408.9 102.6 408.5 100.5Q410.3 101.6 411.1 102Q411.1 101.2 411.4 98.8Q412.8 100.6 412.8 101.4Q413 100.7 413.8 98.7Q414.8 100.6 416.1 101.4Q416.6 100.9 417.9 99.6Q418.2 101.5 417.8 101.9Q418.4 101.6 420 100.6Q419.9 102.5 419.7 103.1Q420.4 102.7 422.7 101.9Q421.7 104 421.2 104.7Q422 104.6 424.2 104.5Q422.8 106.2 422.2 106.5Q422.9 106.6 425.2 107.1Q423.3 108.4 422.7 108.9Z" fill="#b4b8f0" stroke="#a0a4e4" stroke-width="0.5" stroke-linejoin="round"/><circle cx="414.5" cy="109.4" r="5.5" fill="#a4a6ea"/><circle cx="414.5" cy="109.4" r="3.8" fill="#9690d8"/>
<path d="M441.8 130.7Q442.3 131 443.7 132.1Q442.1 132.8 441.4 133.3Q441.8 133.9 442.8 135.4Q441 135.5 440.5 135.4Q440.7 136.1 441.5 137.9Q439.5 137.5 438.6 137.5Q438.7 138.1 438.7 140Q437.1 139.1 436.2 138.9Q436 139.5 435.4 141.2Q434.2 139.8 435 139.2Q434.8 140 434 142.1Q432.9 140.1 431.3 139.2Q430.8 139.8 429.1 141.6Q429 139.2 429.2 138.4Q428.6 138.7 427 139.5Q427.2 137.6 427.9 137.6Q427.2 137.8 425.3 138.3Q426 136.4 426.2 135.8Q425.5 135.7 423.6 135.7Q424.7 134.1 425 133.5Q424.3 133.3 422.4 132.7Q424 131.5 424.6 131Q423.9 130.7 421.8 129.5Q424.1 128.8 425.1 127.9Q424.7 127.4 423.7 125.9Q425.6 125.8 426 126.1Q425.6 125.4 424.6 123.3Q426.8 124 427.1 124.7Q426.8 123.9 426.2 121.5Q428.3 122.8 429.7 122.9Q429.8 122.2 430.2 120.2Q431.6 121.7 431.8 122.3Q432.1 121.5 433 119.2Q434 121.5 434.5 122.3Q434.9 121.7 436.4 120.2Q436.7 122.3 437.3 123.2Q437.9 123 439.6 122.2Q439.4 124.1 438.8 124.3Q439.6 123.9 442 123.1Q440.8 125.4 440.7 126.5Q441.5 126.5 443.9 126.6Q442.2 128.3 441.6 128.8Q442.2 129.1 443.8 129.9Q442.3 130.9 441.8 130.7Z" fill="#b4b8f0" stroke="#a0a4e4" stroke-width="0.5" stroke-linejoin="round"/><circle cx="433.2" cy="130.8" r="5.8" fill="#a4a6ea"/><circle cx="433.2" cy="130.8" r="4" fill="#9690d8"/>
<circle cx="440.6" cy="57.8" r="7.5" fill="#84d6c2" stroke="#68c8b1" stroke-width="0.7"/><circle cx="440.6" cy="57.8" r="4.5" fill="#5ec2ab"/>
<circle cx="382.9" cy="97.2" r="7.2" fill="#84d6c2" stroke="#68c8b1" stroke-width="0.7"/><circle cx="382.9" cy="97.2" r="4.3" fill="#5ec2ab"/>
<circle cx="464.8" cy="103.7" r="7.3" fill="#84d6c2" stroke="#68c8b1" stroke-width="0.7"/><circle cx="464.8" cy="103.7" r="4.4" fill="#5ec2ab"/>
<circle cx="446.6" cy="145.2" r="6.8" fill="#84d6c2" stroke="#68c8b1" stroke-width="0.7"/><circle cx="446.6" cy="145.2" r="4.1" fill="#5ec2ab"/>
<circle cx="483" cy="85.8" r="8" fill="#a9c9f6" stroke="#94b9f1" stroke-width="0.7"/><circle cx="483" cy="85.8" r="5" fill="#88b2f0"/>
<circle cx="447.5" cy="93.6" r="8.4" fill="#a9c9f6" stroke="#94b9f1" stroke-width="0.7"/><circle cx="447.5" cy="93.6" r="5.2" fill="#88b2f0"/>
<circle cx="385.3" cy="136.8" r="7.6" fill="#a9c9f6" stroke="#94b9f1" stroke-width="0.7"/><circle cx="385.3" cy="136.8" r="4.7" fill="#88b2f0"/>
<path d="M430 64.6L430 64.8L430 65L430 65.2L429.9 65.4L430 65.6L430.1 65.8L430.5 66.1L431 66.5L431.7 67L432.7 67.6L433.8 68.4L434.2 68.9L432.7 68.7L431.5 68.4L430.6 68.2L429.8 68L429.3 67.9L429 67.9L428.8 68L428.7 68.2L428.6 68.3L428.4 68.5L428.3 68.7L428.4 69L428.6 69.6L428.9 70.3L429.3 71.4L429.9 72.7L430.5 74.3L429.4 73.3L428.4 72.2L427.7 71.3L427.1 70.6L426.7 70.2L426.4 70L426.1 69.9L425.9 70L425.8 70L425.6 70.1L425.4 70.1L425.2 70.1L425 70.2L424.8 70.2L424.6 70.2L424.4 70.2L424.2 70.2L424 70.2L423.8 70.2L423.6 70.1L423.4 70.1L423.2 70.1L423 70.3L422.7 70.6L422.3 71L421.9 71.5L421.3 72.2L420.7 73L419.9 73.9L419.9 73.1L420.1 72L420.3 71.1L420.5 70.4L420.6 69.8L420.7 69.3L420.7 69L420.6 68.8L420.4 68.8L419.9 68.9L419.4 69.1L418.6 69.5L417.6 69.9L416.4 70.4L415.4 70.7L416.4 69.6L417.3 68.7L418 68L418.5 67.5L418.9 67.1L419.1 66.8L419.1 66.5L419.1 66.3L419 66.1L419 66L418.9 65.8L418.9 65.6L418.9 65.4L418.8 65.2L418.8 65L418.8 64.8L418.8 64.6L418.8 64.4L418.8 64.2L418.8 64L418.9 63.8L418.9 63.6L418.9 63.4L418.9 63.2L418.6 62.9L418.1 62.5L417.3 62L416.3 61.3L415.1 60.4L413.6 59.3L415.3 59.8L416.8 60.2L418 60.6L418.9 60.9L419.5 61L419.9 61.1L420.1 61L420.2 60.9L420.4 60.7L420.5 60.6L420.7 60.4L420.8 60.3L421 60.2L421 60L421 59.5L420.8 58.8L420.5 57.8L420.1 56.5L419.7 54.9L419.7 54.1L420.8 55.6L421.6 56.9L422.2 57.8L422.7 58.5L423 58.9L423.2 59.1L423.4 59.1L423.6 59.1L423.8 59L424 59L424.2 59L424.4 59L424.6 59L424.8 59L425 59L425.2 59L425.4 58.9L425.7 58.7L426 58.2L426.4 57.6L426.9 56.8L427.6 55.8L428.4 54.7L429.2 53.9L428.9 55.4L428.6 56.7L428.3 57.8L428.1 58.6L428 59.3L427.9 59.8L427.9 60.1L428 60.3L428.1 60.4L428.3 60.6L428.6 60.6L429 60.5L429.6 60.2L430.4 59.9L431.5 59.4L432.9 58.9L434.4 58.4L433.1 59.6L432 60.5L431.2 61.3L430.5 61.9L430.1 62.3L429.8 62.6L429.7 62.9L429.8 63.1L429.8 63.2L429.9 63.4L429.9 63.6L429.9 63.8L430 64L430 64.2L430 64.4Z" fill="#8b55c6" stroke="#7a44b6" stroke-width="0.4" stroke-linejoin="round"/><circle cx="424.4" cy="64.6" r="3.3" fill="#6a2ea6"/>
<path d="M388 117.2L389.1 117.5L390.2 117.9L390.1 118.2L388.9 118.4L387.9 118.6L387 118.7L386.4 118.7L385.9 118.8L385.6 119L385.5 119.1L385.4 119.3L385.3 119.5L385.2 119.7L385.1 119.8L385.1 120L385.1 120.2L385.2 120.6L385.6 121.1L386 121.8L386.7 122.6L387.4 123.7L388.3 125L387.1 124.3L385.9 123.6L385 123L384.3 122.5L383.8 122.2L383.4 122L383.2 122L383 122L382.8 122.1L382.7 122.2L382.5 122.3L382.3 122.4L382.1 122.5L382 122.7L381.9 123.1L381.8 123.7L381.7 124.5L381.7 125.5L381.5 126.7L381.2 126.5L380.8 125.4L380.5 124.5L380.2 123.8L380 123.3L379.8 123L379.6 122.8L379.4 122.7L379.2 122.7L379 122.7L378.8 122.6L378.7 122.6L378.5 122.5L378.3 122.5L378.1 122.4L377.9 122.3L377.7 122.2L377.6 122.1L377.4 122.1L377.1 122.1L376.7 122.3L376.2 122.7L375.4 123.3L374.4 124.1L373.1 125.1L372.2 125.4L373.2 124L374 122.8L374.6 121.9L375.1 121.2L375.4 120.7L375.5 120.4L375.5 120.2L375.4 120L375.3 119.8L375.2 119.7L375.1 119.5L375 119.3L374.9 119.1L374.9 118.9L374.8 118.7L374.8 118.6L374.7 118.4L374.7 118.2L374.6 118L374.5 117.8L374.3 117.6L373.9 117.4L373.3 117.2L372.6 116.9L371.6 116.6L370.5 116.2L370.7 115.9L371.9 115.7L372.8 115.6L373.6 115.5L374.2 115.5L374.6 115.4L374.9 115.3L375 115.1L375 114.9L374.8 114.5L374.4 114.1L373.8 113.5L373 112.7L372.1 111.7L372.3 111.5L373.6 112L374.6 112.5L375.3 112.8L375.9 113L376.2 113.1L376.5 113L376.6 112.9L376.8 112.8L376.9 112.7L377.1 112.6L377.2 112.5L377.4 112.4L377.6 112.3L377.7 112.2L377.9 112.1L378.1 112L378.3 111.9L378.5 111.9L378.7 111.8L378.8 111.8L379 111.7L379.2 111.7L379.4 111.7L379.6 111.5L379.8 111.3L380 110.8L380.2 110L380.5 109.1L380.9 107.9L381.3 106.4L381.7 106.4L381.8 108L381.9 109.2L381.9 110.2L382 111L382 111.5L382.1 111.9L382.3 112L382.5 112.1L382.7 112.2L382.8 112.3L383 112.4L383.2 112.5L383.3 112.6L383.5 112.7L383.7 112.7L384.1 112.5L384.7 112.2L385.6 111.6L386.6 111L388 110.2L389.7 109.3L388.4 110.8L387.4 112L386.6 112.9L385.9 113.6L385.5 114.1L385.3 114.5L385.2 114.7L385.3 114.9L385.4 115.1L385.5 115.3L385.5 115.5L385.6 115.7L385.6 115.8L385.7 116L385.7 116.2L385.9 116.4L386.2 116.6L386.6 116.8L387.2 117Z" fill="#8b55c6" stroke="#7a44b6" stroke-width="0.4" stroke-linejoin="round"/><circle cx="380.2" cy="117.2" r="3.3" fill="#6a2ea6"/>
<path d="M488.8 131L489.3 131.2L490 131.5L490.8 131.9L491.8 132.3L492.7 132.8L491.5 132.9L490.5 133L489.6 133L488.9 133.1L488.4 133.1L488 133.2L487.7 133.3L487.5 133.5L487.4 133.6L487.3 133.8L487.2 134L487.1 134.1L487 134.3L486.9 134.4L486.8 134.6L486.7 134.8L486.8 135.1L487 135.6L487.2 136.3L487.6 137.1L488 138.1L488.6 139.3L487.9 138.9L487 138.1L486.2 137.4L485.6 136.9L485.2 136.5L484.9 136.3L484.6 136.2L484.4 136.3L484.2 136.3L484 136.4L483.9 136.5L483.7 136.8L483.6 137.3L483.5 137.9L483.3 138.7L483.1 139.7L482.8 140.9L482.5 141.7L482.2 140.4L481.9 139.3L481.7 138.3L481.6 137.6L481.4 137.1L481.3 136.7L481.1 136.5L481 136.4L480.8 136.3L480.6 136.3L480.4 136.2L480.2 136.1L480 136L479.9 135.9L479.7 135.8L479.5 135.7L479.4 135.6L479.2 135.5L479 135.4L478.8 135.4L478.5 135.5L478 135.7L477.4 136L476.5 136.4L475.5 136.8L474.3 137.4L474.8 136.6L475.6 135.7L476.2 134.9L476.7 134.3L477.1 133.9L477.3 133.5L477.4 133.3L477.3 133.1L477.2 132.9L477.2 132.7L477.1 132.5L477.1 132.4L477 132.2L477 132L476.9 131.8L476.8 131.6L476.3 131.4L475.6 131.2L474.6 131L473.4 130.7L471.8 130.2L472.2 129.9L473.8 129.8L475 129.7L476 129.6L476.6 129.5L477 129.4L477.2 129.3L477.2 129.1L477.3 128.9L477.4 128.7L477.5 128.5L477.6 128.4L477.6 128.2L477.5 127.9L477.3 127.5L477 127L476.6 126.4L476 125.6L475.4 124.6L474.7 123.4L475.4 123.7L476.5 124.4L477.4 124.9L478.1 125.4L478.7 125.8L479.1 126L479.5 126.1L479.7 126.1L479.9 126.1L480 126L480.2 125.9L480.4 125.8L480.6 125.7L480.8 125.7L481 125.6L481.1 125.6L481.3 125.5L481.5 125.5L481.7 125.5L481.9 125.4L482.1 125.2L482.3 124.8L482.5 124.1L482.8 123.2L483.1 122L483.6 120.5L484 120.1L484.1 121.8L484.2 123.1L484.2 124.2L484.2 124.9L484.3 125.4L484.4 125.7L484.6 125.8L484.8 125.9L485 126L485.1 126.1L485.3 126.2L485.5 126.3L485.6 126.4L485.8 126.5L485.9 126.6L486.1 126.7L486.3 126.8L486.6 126.8L487.1 126.6L487.7 126.3L488.5 125.9L489.6 125.5L490.9 124.9L490.3 125.8L489.4 126.7L488.8 127.4L488.3 127.9L487.9 128.4L487.7 128.7L487.7 128.9L487.8 129.1L487.8 129.3L487.9 129.5L487.9 129.6L488 129.8L488 130L488 130.2L488.1 130.4L488.2 130.6L488.4 130.8Z" fill="#8b55c6" stroke="#7a44b6" stroke-width="0.4" stroke-linejoin="round"/><circle cx="482.5" cy="131" r="3.3" fill="#6a2ea6"/>
<path d="M403.5 41.5Q408 56 420.5 64.5Q416 50 403.5 41.5Z" fill="#6369cc" stroke="#3f46a8" stroke-width="0.6"/><line x1="407.8" y1="47.2" x2="416.2" y2="58.8" stroke="#3a3f9c" stroke-width="0.7"/>
<path d="M365.5 74Q358.6 91.4 360.8 110Q367.7 92.6 365.5 74Z" fill="#6369cc" stroke="#3f46a8" stroke-width="0.6"/><line x1="364.3" y1="83" x2="362" y2="101" stroke="#3a3f9c" stroke-width="0.7"/>
<path d="M496 79Q485.5 93.3 484.5 111Q495 96.7 496 79Z" fill="#6369cc" stroke="#3f46a8" stroke-width="0.6"/><line x1="493.1" y1="87" x2="487.4" y2="103" stroke="#3a3f9c" stroke-width="0.7"/>
<path d="M403.5 107Q396.4 124.4 398.5 143Q405.6 125.6 403.5 107Z" fill="#6369cc" stroke="#3f46a8" stroke-width="0.6"/><line x1="402.2" y1="116" x2="399.8" y2="134" stroke="#3a3f9c" stroke-width="0.7"/>
<path d="M422.5 130Q407.8 141.2 401 158.5Q415.7 147.3 422.5 130Z" fill="#6369cc" stroke="#3f46a8" stroke-width="0.6"/><line x1="417.1" y1="137.1" x2="406.4" y2="151.4" stroke="#3a3f9c" stroke-width="0.7"/>
</svg>
</body></html>
